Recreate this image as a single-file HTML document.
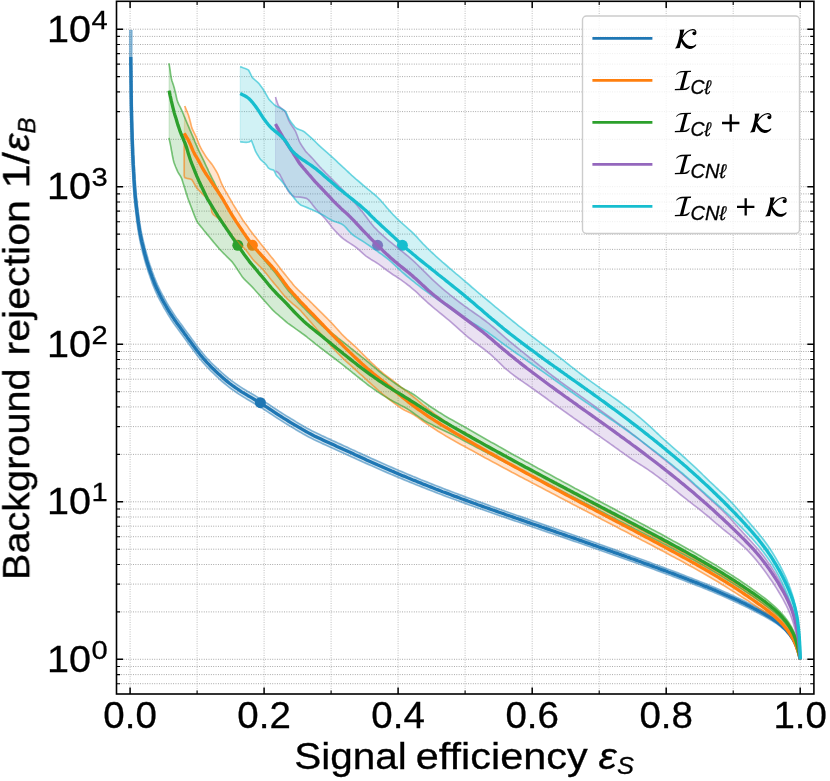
<!DOCTYPE html>
<html><head><meta charset="utf-8"><title>ROC</title>
<style>html,body{margin:0;padding:0;background:#fff}svg{display:block}</style></head>
<body>
<svg width="830" height="781" viewBox="0 0 830 781">
<rect width="830" height="781" fill="#fff"/>
<defs><filter id="gs" x="-5%" y="-5%" width="110%" height="110%" color-interpolation-filters="sRGB"><feColorMatrix type="saturate" values="0"/></filter><clipPath id="pc"><rect x="116.5" y="1.3" width="697.4" height="692.7"/></clipPath></defs>
<g stroke="#969696" stroke-width="0.9" stroke-dasharray="0.9 1.46" fill="none" clip-path="url(#pc)">
<path d="M116.5 683.7H813.9"/>
<path d="M116.5 674.6H813.9"/>
<path d="M116.5 666.5H813.9"/>
<path d="M116.5 659.3H813.9"/>
<path d="M116.5 611.9H813.9"/>
<path d="M116.5 584.1H813.9"/>
<path d="M116.5 564.5H813.9"/>
<path d="M116.5 549.2H813.9"/>
<path d="M116.5 536.7H813.9"/>
<path d="M116.5 526.2H813.9"/>
<path d="M116.5 517H813.9"/>
<path d="M116.5 509H813.9"/>
<path d="M116.5 501.8H813.9"/>
<path d="M116.5 454.4H813.9"/>
<path d="M116.5 426.6H813.9"/>
<path d="M116.5 406.9H813.9"/>
<path d="M116.5 391.7H813.9"/>
<path d="M116.5 379.2H813.9"/>
<path d="M116.5 368.7H813.9"/>
<path d="M116.5 359.5H813.9"/>
<path d="M116.5 351.5H813.9"/>
<path d="M116.5 344.2H813.9"/>
<path d="M116.5 296.8H813.9"/>
<path d="M116.5 269.1H813.9"/>
<path d="M116.5 249.4H813.9"/>
<path d="M116.5 234.1H813.9"/>
<path d="M116.5 221.7H813.9"/>
<path d="M116.5 211.1H813.9"/>
<path d="M116.5 202H813.9"/>
<path d="M116.5 193.9H813.9"/>
<path d="M116.5 186.7H813.9"/>
<path d="M116.5 139.3H813.9"/>
<path d="M116.5 111.6H813.9"/>
<path d="M116.5 91.9H813.9"/>
<path d="M116.5 76.6H813.9"/>
<path d="M116.5 64.1H813.9"/>
<path d="M116.5 53.6H813.9"/>
<path d="M116.5 44.5H813.9"/>
<path d="M116.5 36.4H813.9"/>
<path d="M116.5 29.2H813.9"/>
<path d="M130.1 1.3V694" opacity="0.75"/>
<path d="M197.1 1.3V694" opacity="0.75"/>
<path d="M264.1 1.3V694" opacity="0.75"/>
<path d="M331.1 1.3V694" opacity="0.75"/>
<path d="M398.1 1.3V694" opacity="0.75"/>
<path d="M465.1 1.3V694" opacity="0.75"/>
<path d="M532.2 1.3V694" opacity="0.75"/>
<path d="M599.2 1.3V694" opacity="0.75"/>
<path d="M666.2 1.3V694" opacity="0.75"/>
<path d="M733.2 1.3V694" opacity="0.75"/>
<path d="M800.2 1.3V694" opacity="0.75"/>
</g>
<g clip-path="url(#pc)">
<polygon points="131.8,30 131.7,56.9 131.7,59.9 131.8,62.9 131.8,65.9 131.8,68.9 131.9,71.9 131.9,74.9 131.9,77.9 132,80.9 132,83.9 132,86.9 132.1,89.9 132.1,92.9 132.2,95.9 132.2,98.9 132.2,101.9 132.3,104.9 132.3,107.9 132.4,110.9 132.5,113.9 132.5,116.9 132.6,119.9 132.7,123 132.8,126 132.9,129 133,132 133.1,135 133.2,138 133.3,141 133.4,144 133.5,147 133.6,150 133.7,153 133.9,156 134,159 134.2,161.9 134.3,164.9 134.5,167.9 134.7,170.9 134.8,173.9 135,176.9 135.2,179.9 135.4,182.9 135.6,185.9 135.8,188.9 136.1,191.9 136.3,194.9 136.6,197.8 137,200.8 137.3,203.8 137.6,206.8 138,209.8 138.4,212.7 138.8,215.7 139.2,218.7 139.6,221.6 140,224.6 140.5,227.5 141,230.5 141.6,233.4 142.2,236.3 142.9,239.2 143.6,242.1 144.3,245 145,247.9 145.8,250.8 146.6,253.7 147.4,256.6 148.2,259.4 149.1,262.3 150,265.1 151,267.9 151.9,270.7 153,273.5 154,276.3 155.1,279.1 156.2,281.8 157.4,284.6 158.6,287.2 159.9,289.9 161.2,292.5 162.6,295.1 164,297.7 165.5,300.3 166.9,302.9 168.4,305.5 170,308 171.6,310.5 173.2,313 174.8,315.4 176.5,317.9 178.3,320.3 180,322.7 181.8,325.1 183.5,327.5 185.3,330 187.1,332.4 188.9,334.8 190.6,337.2 192.4,339.7 194.2,342.1 195.9,344.5 197.7,346.9 199.5,349.2 201.4,351.6 203.2,353.8 205.1,356.1 207.1,358.3 209.1,360.4 211.1,362.5 213.2,364.6 215.4,366.6 217.5,368.7 219.7,370.7 221.9,372.7 224.1,374.6 226.3,376.5 228.6,378.4 230.9,380.2 233.3,381.9 235.7,383.6 238.1,385.3 240.5,386.9 243,388.5 245.5,390 248,391.6 250.6,393.1 253.2,394.6 255.8,396.1 258.4,397.7 260.9,399.3 263.5,400.9 266.1,402.6 268.6,404.2 271.1,405.9 273.6,407.6 276.1,409.2 278.6,410.9 281.1,412.5 283.6,414.1 286.1,415.7 288.7,417.2 291.2,418.8 293.8,420.3 296.3,421.9 298.9,423.4 301.5,424.9 304.1,426.4 306.6,427.9 309.2,429.3 311.8,430.7 314.5,432 317.1,433.3 319.8,434.6 322.5,435.9 325.2,437.1 327.9,438.4 330.6,439.6 333.3,440.9 336.1,442.1 338.8,443.4 341.5,444.6 344.3,445.9 347,447.1 349.7,448.4 352.5,449.7 355.2,450.9 357.9,452.2 360.6,453.4 363.4,454.7 366.1,455.9 368.8,457.1 371.6,458.4 374.3,459.6 377,460.8 379.8,462.1 382.5,463.3 385.3,464.5 388,465.7 390.7,466.9 393.5,468.1 396.2,469.3 399,470.5 401.8,471.6 404.5,472.8 407.3,474 410,475.1 412.8,476.3 415.6,477.4 418.3,478.5 421.1,479.7 423.9,480.8 426.7,481.9 429.5,483 432.2,484.1 435,485.2 437.8,486.3 440.6,487.4 443.4,488.5 446.2,489.6 449,490.6 451.8,491.7 454.6,492.8 457.4,493.8 460.2,494.9 463,495.9 465.9,497 468.7,498 471.5,499 474.3,500 477.1,501.1 479.9,502.1 482.8,503.1 485.6,504.1 488.4,505.1 491.2,506.2 494.1,507.2 496.9,508.2 499.7,509.2 502.6,510.2 505.4,511.2 508.2,512.2 511,513.2 513.9,514.2 516.7,515.2 519.5,516.1 522.4,517.1 525.2,518.1 528.1,519.1 530.9,520.1 533.7,521.1 536.6,522.1 539.4,523.1 542.2,524.1 545.1,525.1 547.9,526.1 550.7,527.1 553.6,528 556.4,529 559.2,530 562.1,531 564.9,532 567.8,533 570.6,534 573.4,535 576.3,536 579.1,537 581.9,538 584.8,539 587.6,540 590.4,541 593.3,542 596.1,543 598.9,544 601.7,545 604.6,546.1 607.4,547.1 610.2,548.1 613.1,549.1 615.9,550.1 618.7,551.1 621.6,552.1 624.4,553.2 627.2,554.2 630,555.2 632.9,556.2 635.7,557.3 638.5,558.3 641.3,559.3 644.2,560.3 647,561.4 649.8,562.4 652.6,563.5 655.4,564.5 658.3,565.5 661.1,566.6 663.9,567.6 666.7,568.7 669.5,569.7 672.3,570.8 675.2,571.9 678,572.9 680.8,574 683.6,575.1 686.4,576.2 689.2,577.3 692,578.4 694.8,579.5 697.6,580.6 700.4,581.7 703.2,582.8 706,583.9 708.8,585.1 711.5,586.2 714.3,587.4 717.1,588.6 719.9,589.8 722.6,591 725.4,592.2 728.1,593.4 730.9,594.7 733.6,595.9 736.4,597.2 739.1,598.5 741.8,599.8 744.5,601.1 747.2,602.5 749.9,603.8 752.6,605.2 755.3,606.6 757.9,608 760.6,609.5 763.2,611 765.8,612.5 768.4,614.1 770.9,615.8 773.4,617.6 775.9,619.4 778.2,621.3 780.5,623.2 782.8,625.3 784.9,627.4 786.9,629.7 788.9,632 790.6,634.4 792.3,636.9 793.7,639.5 795,642.2 796.2,644.9 797.2,647.7 798.1,650.6 798.9,653.5 799.6,656.4 800.4,659.3 800,659.3 799.3,656.4 798.5,653.6 797.7,650.7 796.7,647.9 795.6,645.2 794.3,642.6 792.8,640 791.2,637.6 789.5,635.3 787.6,633.1 785.5,631 783.4,629 781.2,627.1 778.9,625.3 776.5,623.6 774,622 771.5,620.4 769,618.9 766.4,617.5 763.8,616.1 761.1,614.7 758.5,613.3 755.9,611.9 753.2,610.5 750.6,609.2 747.9,607.8 745.2,606.5 742.5,605.2 739.8,603.9 737.1,602.6 734.4,601.4 731.7,600.1 729,598.9 726.3,597.7 723.5,596.5 720.8,595.3 718,594.1 715.2,593 712.5,591.8 709.7,590.7 706.9,589.5 704.2,588.4 701.4,587.3 698.6,586.2 695.8,585.1 693,584 690.2,582.9 687.4,581.9 684.6,580.8 681.8,579.7 679,578.7 676.2,577.6 673.4,576.6 670.6,575.5 667.8,574.5 664.9,573.5 662.1,572.4 659.3,571.4 656.5,570.4 653.7,569.3 650.8,568.3 648,567.3 645.2,566.3 642.4,565.3 639.5,564.2 636.7,563.2 633.9,562.2 631.1,561.2 628.2,560.2 625.4,559.2 622.6,558.2 619.7,557.2 616.9,556.2 614.1,555.2 611.2,554.2 608.4,553.2 605.6,552.2 602.7,551.2 599.9,550.2 597.1,549.2 594.2,548.3 591.4,547.3 588.6,546.3 585.7,545.3 582.9,544.3 580.1,543.3 577.2,542.3 574.4,541.4 571.5,540.4 568.7,539.4 565.9,538.4 563,537.4 560.2,536.5 557.4,535.5 554.5,534.5 551.7,533.5 548.8,532.6 546,531.6 543.1,530.6 540.3,529.6 537.5,528.7 534.6,527.7 531.8,526.7 528.9,525.7 526.1,524.8 523.3,523.8 520.4,522.8 517.6,521.8 514.7,520.9 511.9,519.9 509,518.9 506.2,517.9 503.4,516.9 500.5,516 497.7,515 494.8,514 492,513 489.2,512 486.3,511 483.5,510 480.7,509 477.8,508 475,507 472.2,506 469.3,505 466.5,503.9 463.7,502.9 460.8,501.9 458,500.8 455.2,499.8 452.4,498.8 449.6,497.7 446.7,496.7 443.9,495.6 441.1,494.5 438.3,493.5 435.5,492.4 432.7,491.3 429.9,490.2 427.1,489.1 424.3,488 421.5,486.9 418.7,485.8 415.9,484.7 413.1,483.5 410.3,482.4 407.5,481.2 404.7,480.1 401.9,478.9 399.2,477.8 396.4,476.6 393.6,475.4 390.8,474.3 388.1,473.1 385.3,471.9 382.5,470.7 379.8,469.5 377,468.3 374.3,467.1 371.5,465.8 368.8,464.6 366,463.4 363.3,462.2 360.5,460.9 357.8,459.7 355.1,458.4 352.3,457.2 349.6,456 346.8,454.7 344.1,453.5 341.4,452.2 338.6,451 335.9,449.8 333.2,448.5 330.4,447.3 327.7,446.1 324.9,444.8 322.2,443.6 319.5,442.3 316.7,441 314,439.7 311.3,438.3 308.6,436.9 305.9,435.4 303.2,434 300.6,432.4 298,430.9 295.4,429.4 292.8,427.8 290.2,426.3 287.6,424.7 285,423.1 282.5,421.5 279.9,419.9 277.4,418.3 274.8,416.6 272.3,414.9 269.8,413.3 267.3,411.6 264.8,410 262.3,408.4 259.8,406.8 257.3,405.2 254.7,403.7 252.2,402.2 249.6,400.7 247,399.2 244.4,397.6 241.8,396 239.2,394.4 236.7,392.7 234.2,390.9 231.7,389.2 229.2,387.3 226.8,385.4 224.5,383.5 222.1,381.5 219.8,379.5 217.6,377.4 215.4,375.3 213.2,373.2 211,371.1 208.9,368.9 206.7,366.7 204.7,364.5 202.7,362.2 200.7,359.8 198.8,357.5 196.9,355 195.1,352.6 193.3,350.2 191.5,347.8 189.7,345.3 188,342.9 186.2,340.5 184.4,338 182.6,335.6 180.9,333.2 179.1,330.8 177.3,328.3 175.6,325.9 173.8,323.4 172.1,320.9 170.4,318.4 168.8,315.8 167.2,313.2 165.7,310.6 164.1,308 162.7,305.3 161.2,302.7 159.8,300 158.4,297.3 157.1,294.6 155.8,291.8 154.6,289 153.4,286.2 152.3,283.4 151.3,280.5 150.3,277.7 149.3,274.8 148.3,272 147.4,269.1 146.5,266.2 145.6,263.3 144.8,260.4 144,257.5 143.2,254.6 142.5,251.7 141.8,248.7 141.1,245.8 140.4,242.8 139.8,239.9 139.2,236.9 138.7,233.9 138.2,231 137.8,228 137.3,225 136.9,222 136.5,219 136.2,216 135.8,213 135.5,210.1 135.1,207.1 134.8,204.1 134.5,201.1 134.2,198.1 134,195.1 133.8,192.1 133.5,189.1 133.3,186.1 133.2,183.1 133,180.1 132.8,177.1 132.7,174.1 132.5,171.1 132.3,168.1 132.2,165.1 132,162.1 131.9,159.1 131.8,156 131.7,153 131.6,150 131.5,147 131.4,144 131.3,141 131.2,138 131.1,135 131,132 130.9,129 130.8,126 130.7,123 130.7,120 130.6,117 130.5,114 130.5,111 130.4,108 130.4,105 130.3,102 130.3,99 130.3,96 130.2,93 130.2,90 130.2,86.9 130.1,83.9 130.1,80.9 130.1,77.9 130,74.9 130,71.9 130,68.9 129.9,65.9 129.9,62.9 129.8,59.9 129.8,56.9 129.8,30" fill="#1f77b4" fill-opacity="0.2" stroke="#1f77b4" stroke-opacity="0.18" stroke-width="1"/>
<circle cx="260.4" cy="402.7" r="5.5" fill="#1f77b4"/>
<polygon points="184.8,106 185.7,108.3 186.6,110.6 187.6,113 188.5,115.3 189.2,117.7 189.9,120.1 190.5,122.5 191.1,124.9 191.7,127.4 192.6,129.7 193.7,131.9 194.8,134.2 195.9,136.4 196.9,138.7 197.8,141 198.7,143.4 199.7,145.7 200.8,147.9 202,150.1 203.3,152.2 204.6,154.4 205.9,156.5 207.3,158.5 208.9,160.5 210.4,162.4 212,164.4 213.4,166.5 214.7,168.6 216,170.8 217.2,172.9 218.3,175.2 219.2,177.5 220.1,179.8 221,182.2 222,184.5 223.1,186.7 224.3,188.9 225.5,191.1 226.8,193.2 228,195.4 229.3,197.6 230.5,199.7 231.8,201.9 233,204.1 234.3,206.2 235.6,208.3 236.9,210.5 238.3,212.6 239.6,214.7 240.9,216.9 242.2,219 243.5,221.1 245,223.1 246.5,225.1 248,227.1 249.4,229.2 250.9,231.2 252.4,233.2 253.9,235.2 255.5,237.1 257,239.1 258.6,241 260.1,243 261.7,245 263.3,246.9 264.8,248.9 266.4,250.8 268,252.8 269.5,254.7 271.1,256.7 272.7,258.6 274.2,260.6 275.7,262.5 277.3,264.5 278.8,266.5 280.3,268.5 281.8,270.5 283.4,272.4 285,274.4 286.5,276.3 288.1,278.2 289.7,280.2 291.3,282.1 292.8,284.1 294.4,286 296.2,287.8 297.9,289.6 299.7,291.3 301.5,293 303.3,294.8 305.1,296.5 306.9,298.3 308.7,300 310.5,301.8 312.2,303.5 314,305.3 315.8,307.1 317.5,308.8 319.3,310.6 321.1,312.4 322.9,314.2 324.6,315.9 326.4,317.7 328.2,319.5 329.9,321.2 331.7,323 333.4,324.8 335.1,326.7 336.7,328.5 338.4,330.4 340.1,332.3 341.7,334.1 343.5,335.9 345.3,337.6 347.1,339.3 349,341 350.9,342.6 352.7,344.3 354.6,346 356.4,347.7 358.2,349.5 359.9,351.2 361.7,353 363.5,354.8 365.2,356.5 367,358.3 368.8,360.1 370.6,361.8 372.4,363.5 374.2,365.2 376,367 377.9,368.7 379.7,370.4 381.6,372 383.5,373.6 385.5,375.1 387.5,376.6 389.5,378.1 391.5,379.6 393.5,381.1 395.4,382.7 397.4,384.2 399.4,385.8 401.3,387.3 403.3,388.9 405.3,390.4 407.3,391.9 409.2,393.4 411.2,395 413.1,396.5 415.1,398.1 417,399.7 418.9,401.4 420.8,403 422.7,404.6 424.7,406.2 427.2,408.3 429.7,410.2 432.1,412 434.6,413.9 437.1,415.7 439.6,417.5 442.1,419.3 444.6,421 447.1,422.7 449.7,424.4 452.2,425.9 454.8,427.4 457.4,428.8 459.9,430.1 462.5,431.4 465.1,432.7 467.7,434.2 470.3,435.8 472.8,437.3 475.4,438.8 478,440.3 480.6,441.8 483.2,443.3 485.8,444.8 488.4,446.3 491,447.7 493.6,449.2 496.2,450.7 498.9,452.2 501.5,453.7 504.1,455.1 506.7,456.6 509.3,458.1 511.9,459.5 514.6,461 517.2,462.5 519.8,463.9 522.4,465.4 525.1,466.8 527.7,468.3 530.3,469.7 532.9,471.2 535.6,472.6 538.2,474.1 540.8,475.5 543.5,477 546.1,478.4 548.7,479.9 551.4,481.3 554,482.7 556.6,484.2 559.3,485.6 561.9,487.1 564.5,488.5 567.2,489.9 569.8,491.4 572.5,492.8 575.1,494.2 577.7,495.7 580.4,497.1 583,498.5 585.7,500 588.3,501.4 590.9,502.8 593.6,504.2 596.2,505.7 598.9,507.1 601.5,508.5 604.2,509.9 606.8,511.4 609.5,512.8 612.1,514.2 614.8,515.6 617.4,517 620.1,518.5 622.7,519.9 625.4,521.3 628,522.7 630.7,524.1 633.3,525.6 636,527 638.6,528.4 641.2,529.8 643.9,531.3 646.5,532.7 649.2,534.1 651.8,535.6 654.5,537 657.1,538.4 659.8,539.9 662.4,541.3 665.1,542.7 667.7,544.2 670.3,545.6 673,547.1 675.6,548.5 678.2,550 680.9,551.5 683.5,552.9 686.1,554.4 688.8,555.9 691.4,557.4 694,558.9 696.6,560.4 699.2,561.9 701.8,563.4 704.4,564.9 707,566.4 709.6,568 712.2,569.5 714.8,571.1 717.4,572.7 720,574.2 722.5,575.8 725.1,577.4 727.6,579 730.2,580.7 732.7,582.3 735.3,583.9 737.8,585.6 740.3,587.3 742.8,589 745.3,590.7 747.8,592.4 750.2,594.2 752.7,595.9 755.1,597.7 757.6,599.5 760,601.3 762.4,603.2 764.7,605.1 767.1,607 769.4,608.9 771.7,610.9 774,613 776.2,615 778.4,617.2 780.5,619.4 782.6,621.6 784.6,623.9 786.5,626.3 788.3,628.7 790.1,631.2 791.7,633.8 793.2,636.4 794.5,639.1 795.7,641.9 796.8,644.7 797.7,647.5 798.5,650.4 799.2,653.4 799.8,656.3 800.2,659.3 800.2,659.3 799.2,656.5 798.3,653.6 797.3,650.8 796.3,648 795.2,645.3 794,642.6 792.6,640 791.1,637.5 789.5,635.1 787.8,632.8 786,630.5 784,628.3 782,626.2 779.9,624.1 777.8,622.2 775.6,620.2 773.3,618.4 771,616.5 768.6,614.8 766.2,613.1 763.8,611.4 761.3,609.7 758.8,608.1 756.3,606.4 753.8,604.7 751.3,603.1 748.9,601.4 746.4,599.8 743.8,598.2 741.3,596.6 738.8,595 736.3,593.4 733.8,591.8 731.3,590.2 728.7,588.6 726.2,587 723.7,585.4 721.1,583.9 718.6,582.3 716,580.8 713.4,579.2 710.9,577.7 708.3,576.2 705.7,574.7 703.1,573.2 700.5,571.7 697.9,570.3 695.3,568.8 692.7,567.3 690.1,565.9 687.4,564.4 684.8,563 682.2,561.6 679.5,560.1 676.9,558.7 674.3,557.3 671.6,555.9 669,554.4 666.3,553 663.7,551.6 661,550.2 658.4,548.8 655.7,547.4 653.1,546 650.4,544.6 647.8,543.2 645.1,541.8 642.4,540.4 639.8,539.1 637.1,537.7 634.4,536.3 631.8,534.9 629.1,533.5 626.4,532.1 623.8,530.7 621.1,529.4 618.4,528 615.8,526.6 613.1,525.2 610.4,523.8 607.8,522.4 605.1,521.1 602.4,519.7 599.8,518.3 597.1,516.9 594.4,515.5 591.8,514.1 589.1,512.7 586.4,511.3 583.7,510 581.1,508.6 578.4,507.2 575.8,505.8 573.1,504.4 570.4,503 567.8,501.6 565.1,500.2 562.4,498.8 559.8,497.4 557.1,496 554.4,494.6 551.8,493.2 549.1,491.8 546.5,490.4 543.8,489 541.1,487.6 538.5,486.2 535.8,484.8 533.1,483.4 530.5,482 527.8,480.6 525.1,479.2 522.5,477.8 519.8,476.4 517.2,475 514.5,473.6 511.8,472.2 509.2,470.7 506.5,469.3 503.9,467.9 501.2,466.5 498.6,465.1 495.9,463.6 493.3,462.2 490.6,460.8 488,459.3 485.3,457.9 482.7,456.4 480,455 477.4,453.5 474.7,452.1 472.1,450.6 469.5,449.2 466.8,447.7 464.2,446.3 461.6,444.9 458.9,443.4 456.3,442 453.7,440.5 451.1,439.1 448.4,437.5 445.8,436 443.2,434.4 440.6,432.8 438,431.2 435.4,429.5 432.8,427.8 430.2,426.1 427.6,424.4 425,422.6 423.4,421.5 421.4,420 419.3,418.6 417.3,417.1 415.3,415.7 413.2,414.4 411.1,413.3 408.9,412.3 406.8,411.3 404.6,410.3 402.5,409.1 400.5,407.7 398.4,406.3 396.4,404.8 394.4,403.4 392.4,401.8 390.4,400.3 388.4,398.8 386.5,397.2 384.5,395.6 382.6,394.1 380.7,392.4 378.8,390.8 376.9,389.1 375.1,387.5 373.2,385.8 371.3,384.1 369.5,382.5 367.6,380.8 365.8,379.1 363.9,377.4 362.1,375.7 360.2,374.1 358.3,372.4 356.5,370.7 354.6,369 352.8,367.4 350.9,365.7 349.1,364 347.2,362.3 345.3,360.7 343.5,359 341.7,357.2 340,355.4 338.2,353.6 336.5,351.8 334.8,350 333,348.2 331.3,346.4 329.7,344.5 328.1,342.6 326.5,340.7 324.9,338.8 323.3,336.8 321.7,334.9 320.1,333 318.5,331.1 316.8,329.2 315.2,327.3 313.5,325.4 311.9,323.5 310.3,321.6 308.6,319.7 307,317.9 305.3,316 303.7,314.1 302,312.2 300.4,310.3 298.5,308.6 296.6,307 294.7,305.4 292.8,303.8 290.9,302.1 289,300.5 287.2,298.8 285.5,297 283.8,295.1 282.2,293.2 280.6,291.3 279.1,289.3 277.5,287.4 275.9,285.5 274.3,283.6 272.7,281.6 271.1,279.7 269.5,277.7 268,275.8 266.4,273.8 264.8,271.9 263.2,270 261.5,268.2 259.7,266.4 257.9,264.6 256.2,262.9 254.4,261.1 252.7,259.2 251.2,257.3 249.7,255.3 248.2,253.2 246.7,251.2 245.2,249.3 243.4,247.5 241.6,245.7 239.9,244 238.1,242.2 236.3,240.4 234.6,238.7 232.8,236.9 231.4,234.8 230,232.8 228.6,230.7 227.2,228.6 225.8,226.5 224.4,224.5 223,222.4 221.2,220.7 219.3,219.1 217.3,217.6 215.3,216.1 213.3,214.6 212,212.6 211.5,210.2 211,207.8 210.5,205.3 209.9,202.9 209.1,200.6 207.4,198.8 205.6,197 203.9,195.3 202.1,193.5 200.3,191.7 198.6,190 196.8,188.1 195.6,186 194.3,183.8 193.1,181.7 191.8,179.6 189.5,178.8 187.1,178.4 184.8,177.8 184.2,175.8 184.2,173.3 184.2,170.8 184.2,168.3 184.2,165.8 184.2,163.3 184.2,160.8 184.2,158.3 184.2,155.8 184.2,153.3 184.2,150.8 184.2,148.3 184.2,145.8 184.2,143.3 184.2,140.8 184.2,138.3 184.2,135.8 184.2,133.3" fill="#ff7f0e" fill-opacity="0.2" stroke="#ff7f0e" stroke-opacity="0.18" stroke-width="1"/>
<circle cx="252.4" cy="245.3" r="5.5" fill="#ff7f0e"/>
<polygon points="169,63.4 169.4,65.9 169.8,68.4 170.2,70.8 170.5,73.3 170.9,75.8 171.3,78.2 171.9,80.7 172.7,83.1 173.5,85.4 174.2,87.8 174.8,90.3 175.4,92.7 176,95.1 176.5,97.6 177.1,100 177.9,102.4 178.9,104.7 180.1,106.9 181.2,109.1 182.2,111.4 183.2,113.7 184.1,116.1 185.1,118.4 186,120.7 187,123 188,125.3 189,127.6 189.9,129.9 190.9,132.2 191.9,134.5 192.9,136.8 193.9,139.1 194.8,141.5 195.8,143.8 196.8,146.1 197.8,148.4 198.8,150.6 199.9,152.9 201,155.2 202.1,157.4 203.2,159.7 204.3,161.9 205.3,164.2 206.4,166.5 207.5,168.7 208.5,171 209.6,173.3 210.7,175.5 211.8,177.8 212.9,180 214.1,182.2 215.2,184.5 216.3,186.7 217.5,188.9 218.6,191.2 219.9,193.3 221.1,195.5 222.3,197.7 223.5,199.9 224.7,202.1 225.9,204.3 227.2,206.5 228.4,208.7 229.7,210.8 231,213 232.3,215.1 233.6,217.2 234.9,219.4 236.2,221.5 237.5,223.7 238.8,225.8 240.2,227.9 241.5,230 242.8,232.1 244.2,234.3 245.5,236.4 246.8,238.5 248.2,240.6 249.5,242.7 251.1,244.7 252.7,246.6 254.4,248.5 256,250.3 257.7,252.2 259.4,254.1 261,256 262.7,257.9 264.3,259.8 265.9,261.7 267.5,263.6 269.1,265.5 270.7,267.5 272.3,269.4 273.9,271.3 275.5,273.2 277,275.2 278.5,277.3 280,279.3 281.5,281.3 282.9,283.3 284.4,285.4 285.9,287.4 287.4,289.4 288.9,291.4 290.6,293.2 292.3,295.1 293.9,297 295.6,298.8 297.3,300.7 298.9,302.6 300.6,304.4 302.3,306.3 304.1,308 305.9,309.8 307.6,311.6 309.4,313.4 311.1,315.2 312.9,317 314.7,318.7 316.5,320.5 318.3,322.2 320.2,323.9 322,325.6 323.9,327.2 325.9,328.7 327.9,330.1 330,331.6 332,333.1 333.9,334.7 335.9,336.2 337.8,337.8 339.8,339.4 341.7,340.9 343.7,342.5 345.7,344.1 347.6,345.6 349.6,347.2 351.5,348.8 353.5,350.3 355.5,351.9 357.4,353.5 359.4,355 361.3,356.6 363.3,358.2 365.2,359.7 367.2,361.3 369.1,362.9 371,364.5 372.9,366.1 374.9,367.7 376.8,369.4 378.7,371 380.6,372.5 382.6,374.1 384.6,375.6 386.6,377.1 388.6,378.6 390.6,380.1 392.6,381.6 394.7,383 396.7,384.5 398.8,385.8 400.9,387.2 403.1,388.5 405.2,389.7 407.4,390.8 409.5,392 411.7,393.2 413.8,394.5 415.8,395.9 417.8,397.4 419.8,398.9 421.8,400.4 423.8,401.9 427.1,404.2 429.6,406 432.1,407.7 434.6,409.3 437.1,411 439.6,412.6 442.2,414.1 444.7,415.7 447.2,417.2 449.8,418.7 452.3,420.1 454.9,421.6 457.5,423 460.1,424.4 462.7,425.8 465.2,427.2 467.8,428.7 470.4,430.2 473,431.7 475.6,433.2 478.2,434.7 480.8,436.2 483.4,437.7 486,439.2 488.6,440.7 491.2,442.2 493.8,443.6 496.4,445.1 499,446.6 501.7,448 504.3,449.5 506.9,451 509.5,452.4 512.1,453.9 514.7,455.4 517.4,456.8 520,458.3 522.6,459.7 525.2,461.2 527.9,462.6 530.5,464.1 533.1,465.5 535.8,466.9 538.4,468.4 541,469.8 543.7,471.3 546.3,472.7 548.9,474.1 551.6,475.6 554.2,477 556.8,478.4 559.5,479.8 562.1,481.3 564.8,482.7 567.4,484.1 570.1,485.5 572.7,486.9 575.3,488.4 578,489.8 580.6,491.2 583.3,492.6 585.9,494 588.6,495.4 591.2,496.8 593.9,498.3 596.5,499.7 599.2,501.1 601.8,502.5 604.5,503.9 607.1,505.3 609.8,506.7 612.4,508.1 615.1,509.5 617.7,511 620.4,512.4 623,513.8 625.7,515.2 628.3,516.6 631,518 633.6,519.4 636.3,520.8 638.9,522.3 641.6,523.7 644.2,525.1 646.9,526.5 649.5,527.9 652.2,529.4 654.8,530.8 657.5,532.2 660.1,533.6 662.8,535.1 665.4,536.5 668,538 670.7,539.4 673.3,540.9 675.9,542.3 678.6,543.8 681.2,545.2 683.8,546.7 686.5,548.2 689.1,549.7 691.7,551.1 694.3,552.6 696.9,554.1 699.5,555.6 702.1,557.1 704.7,558.7 707.3,560.2 709.9,561.7 712.5,563.3 715.1,564.8 717.7,566.4 720.3,568 722.8,569.6 725.4,571.2 727.9,572.8 730.5,574.4 733,576 735.6,577.7 738.1,579.3 740.6,581 743.1,582.7 745.6,584.4 748.1,586.1 750.5,587.8 753,589.6 755.4,591.3 757.9,593.1 760.3,594.9 762.7,596.7 765.2,598.5 767.6,600.4 769.9,602.3 772.2,604.3 774.5,606.3 776.7,608.4 778.9,610.6 781,612.8 783,615.1 785,617.4 786.8,619.8 788.6,622.3 790.2,624.9 791.8,627.5 793.1,630.2 794.4,632.9 795.5,635.7 796.4,638.6 797.3,641.5 798,644.4 798.6,647.4 799.1,650.3 799.6,653.3 800,656.3 800.2,659.3 800.2,659.3 799.4,656.4 798.7,653.5 798,650.6 797.2,647.7 796.4,644.8 795.5,642 794.5,639.3 793.4,636.6 792.2,633.9 790.9,631.4 789.4,628.9 787.8,626.5 786,624.1 784.2,621.9 782.3,619.7 780.3,617.6 778.2,615.5 776,613.5 773.8,611.6 771.5,609.8 769.2,608 766.8,606.2 764.4,604.5 762,602.8 759.6,601.1 757.1,599.4 754.7,597.7 752.2,596 749.7,594.3 747.2,592.7 744.7,591 742.2,589.4 739.7,587.8 737.2,586.2 734.7,584.6 732.2,582.9 729.6,581.4 727.1,579.8 724.5,578.2 722,576.6 719.4,575.1 716.9,573.6 714.3,572 711.7,570.5 709.1,569 706.6,567.5 704,566 701.4,564.5 698.8,563.1 696.1,561.6 693.5,560.1 690.9,558.7 688.3,557.2 685.7,555.8 683,554.3 680.4,552.9 677.8,551.5 675.1,550.1 672.5,548.6 669.9,547.2 667.2,545.8 664.6,544.4 661.9,543 659.3,541.6 656.6,540.2 653.9,538.8 651.3,537.4 648.6,536.1 646,534.7 643.3,533.3 640.6,531.9 638,530.5 635.3,529.2 632.6,527.8 630,526.4 627.3,525 624.6,523.6 622,522.3 619.3,520.9 616.6,519.5 614,518.1 611.3,516.8 608.6,515.4 606,514 603.3,512.6 600.6,511.2 598,509.9 595.3,508.5 592.6,507.1 590,505.7 587.3,504.3 584.6,503 582,501.6 579.3,500.2 576.6,498.8 574,497.4 571.3,496 568.6,494.7 566,493.3 563.3,491.9 560.6,490.5 558,489.1 555.3,487.7 552.7,486.3 550,484.9 547.3,483.5 544.6,482.2 542,480.8 539.3,479.5 536.6,478.1 533.9,476.8 531.2,475.4 528.5,474.1 525.8,472.7 523.2,471.4 520.5,470 517.8,468.7 515.1,467.3 512.4,465.9 509.8,464.6 507.1,463.2 504.4,461.8 501.7,460.4 499,459.1 496.4,457.7 493.7,456.3 491,454.9 488.4,453.5 485.7,452.1 483,450.7 480.4,449.3 477.7,447.9 475,446.5 472.4,445.1 469.7,443.7 467,442.3 464.4,440.9 461.7,439.5 459.1,438.1 456.4,436.7 453.8,435.3 451.1,434 448.5,432.7 445.8,431.4 443.2,430.2 440.5,429 437.9,427.7 435.3,426.4 432.7,425.1 430.1,423.7 427.5,422.4 424,420.4 421.9,419 419.8,417.6 417.8,416.1 415.7,414.7 413.7,413.3 411.6,411.8 409.6,410.4 407.5,409.1 405.3,407.8 403.2,406.6 400.9,405.4 398.7,404.2 396.5,403.1 394.3,401.9 392.1,400.7 389.9,399.5 387.8,398.2 385.6,396.9 383.5,395.6 381.4,394.3 379.3,392.9 377.2,391.5 375.1,390 373.1,388.6 371.1,387.1 369,385.7 367,384.2 365.1,382.6 363.1,381.1 361.1,379.5 359.2,378 357.2,376.4 355.3,374.8 353.3,373.3 351.4,371.7 349.4,370.1 347.5,368.6 345.5,367 343.5,365.4 341.6,363.9 339.6,362.4 337.6,360.8 335.6,359.3 333.6,357.8 331.6,356.3 329.6,354.8 327.6,353.2 325.6,351.7 323.7,350.2 321.7,348.7 319.7,347.2 317.7,345.6 315.7,344.1 313.8,342.5 311.8,340.9 309.9,339.4 307.9,337.8 306,336.2 304,334.7 301.9,333.3 299.9,331.8 297.9,330.4 295.8,328.9 293.8,327.4 291.8,326 289.7,324.5 287.7,323.1 285.8,321.5 283.9,319.8 282,318.2 280.1,316.6 278.2,314.9 276.3,313.3 274.4,311.7 272.6,309.9 270.9,308 269.3,306.2 267.6,304.3 265.9,302.4 264.3,300.6 262.6,298.7 260.9,296.8 259.3,294.9 257.6,293 256,291.2 254.3,289.3 252.6,287.4 250.9,285.7 249.1,283.9 247.3,282.2 245.5,280.4 243.8,278.6 242.2,276.7 240.8,274.6 239.4,272.5 238,270.4 236.6,268.3 235.3,266.3 233.9,264.2 232.4,262.2 230.7,260.4 228.9,258.6 227.1,256.8 225.3,255 223.6,253.3 221.8,251.5 220,249.7 218.4,247.8 216.8,245.9 215.2,244 213.6,242.1 212,240.1 210.4,238.2 208.8,236.3 207.2,234.4 205.6,232.4 204,230.5 202.5,228.5 200.9,226.6 199.3,224.6 197.8,222.7 196.5,220.5 195.5,218.2 194.6,215.9 193.7,213.6 192.8,211.2 191.9,208.9 191,206.5 190.1,204.2 189.2,201.9 188.3,199.5 187.5,197.2 186.8,194.8 186,192.4 185.3,190 184.5,187.6 183.8,185.2 183,182.8 182.3,180.4 181.5,178.1 180.3,175.9 178.9,173.8 177.7,171.6 176.7,169.3 175.7,167 174.8,164.7 173.9,162.3 173.3,159.9 172.8,157.5 172.3,155 171.9,152.5 171.4,150.1 171,147.6 170.5,145.2 170,142.7 169.5,140.3 169,137.8" fill="#2ca02c" fill-opacity="0.2" stroke="#2ca02c" stroke-opacity="0.18" stroke-width="1"/>
<circle cx="237.8" cy="245.3" r="5.5" fill="#2ca02c"/>
<polygon points="275.5,97 276.4,99.9 277.3,102.7 278.3,105.6 280.5,107.6 282.8,109.5 285,111.5 286.3,114.2 287.4,117 288.5,119.8 289.8,122.5 291.4,125 293.1,127.5 294.8,130 296.1,132.7 297.2,135.5 298.2,138.3 299.2,141.2 300.6,143.8 302.2,146.3 303.9,148.8 305.6,151.3 307.7,153.5 309.8,155.6 311.9,157.8 313.9,160 315.8,162.3 317.8,164.6 319.8,166.8 321.9,169 324,171.1 326.1,173.3 328.2,175.4 330.4,177.6 332.5,179.7 334.6,181.8 336.7,183.9 338.9,186.1 341,188.2 343.1,190.3 345.3,192.5 347.4,194.6 349.5,196.8 351.5,199 353.5,201.2 355.4,203.5 357.4,205.8 359.3,208.1 361.2,210.5 363.1,212.8 364.9,215.2 366.7,217.6 368.5,220 370.3,222.4 372.2,224.8 374.1,227.1 376.2,229.2 378.3,231.4 380.5,233.4 382.7,235.4 384.9,237.4 387.2,239.4 389.5,241.3 391.9,243.2 394.2,245.1 396.6,247 398.9,248.9 401.3,250.7 403.6,252.6 405.9,254.5 408.3,256.4 410.5,258.4 412.8,260.4 415,262.4 417.2,264.5 419.3,266.6 421.5,268.7 423.6,270.8 425.7,272.9 427.9,275.1 430,277.2 432.2,279.3 434.4,281.4 436.6,283.4 438.8,285.4 441.1,287.4 443.3,289.3 445.7,291.3 448,293.2 450.3,295.1 452.7,296.9 455,298.8 457.4,300.6 459.8,302.5 462.2,304.3 464.6,306.1 467.1,307.8 469.5,309.6 472,311.3 474.4,313 476.9,314.7 479.4,316.4 481.8,318.2 484.2,320 486.6,321.8 489,323.7 491.3,325.6 493.6,327.5 495.9,329.4 498.1,331.4 500.4,333.4 502.6,335.4 504.9,337.4 507.2,339.3 509.5,341.3 511.8,343.2 514.1,345.1 516.4,347 518.8,348.9 521.1,350.8 523.5,352.7 525.8,354.6 528.2,356.5 530.5,358.3 532.9,360.2 535.2,362.1 537.6,364 539.9,365.9 542.3,367.7 544.6,369.6 547,371.5 549.3,373.3 551.7,375.2 554.1,377 556.5,378.8 558.9,380.6 561.3,382.4 563.8,384.2 566.2,385.9 568.7,387.7 571.1,389.4 573.6,391.1 576,392.9 578.5,394.6 580.9,396.4 583.4,398.1 585.8,399.9 588.3,401.6 590.7,403.4 593.2,405.2 595.6,406.9 598,408.7 600.5,410.5 602.9,412.2 605.3,414 607.8,415.8 610.2,417.5 612.6,419.3 615.1,421.1 617.5,422.9 619.9,424.6 622.3,426.4 624.8,428.2 627.2,430 629.6,431.8 631.9,433.7 634.3,435.5 636.7,437.4 639,439.2 641.4,441.1 643.7,443 646.1,444.9 648.4,446.8 650.8,448.6 653.1,450.5 655.5,452.4 657.8,454.3 660.2,456.2 662.5,458 664.9,459.9 667.2,461.8 669.6,463.7 671.9,465.6 674.2,467.5 676.6,469.4 678.9,471.3 681.2,473.2 683.5,475.2 685.8,477.1 688,479.1 690.3,481.1 692.5,483.1 694.7,485.2 697,487.2 699.2,489.2 701.4,491.2 703.7,493.2 705.9,495.3 708.1,497.3 710.4,499.3 712.6,501.3 714.8,503.3 717.1,505.3 719.3,507.4 721.4,509.5 723.6,511.6 725.7,513.7 727.8,515.8 729.8,518 731.9,520.3 733.9,522.5 735.9,524.7 737.9,527 739.9,529.2 741.9,531.4 743.9,533.7 746,535.9 748,538.1 750.1,540.3 752.1,542.5 754.1,544.7 756.1,547 758,549.3 759.9,551.6 761.8,553.9 763.7,556.3 765.5,558.7 767.2,561.2 768.9,563.6 770.6,566.1 772.3,568.6 773.9,571.2 775.5,573.7 777,576.3 778.5,578.9 779.9,581.5 781.4,584.2 782.7,586.9 784.1,589.6 785.3,592.3 786.6,595 787.8,597.8 788.9,600.5 790,603.3 791,606.2 791.9,609 792.8,611.9 793.6,614.8 794.3,617.7 795,620.6 795.7,623.5 796.3,626.5 796.8,629.4 797.3,632.4 797.7,635.4 798.1,638.4 798.5,641.3 798.8,644.3 799.1,647.3 799.4,650.3 799.7,653.3 799.9,656.3 800.2,659.3 800.2,659.3 799.8,656.3 799.5,653.3 799.1,650.4 798.7,647.4 798.2,644.4 797.7,641.5 797.2,638.5 796.6,635.6 795.9,632.6 795.2,629.7 794.4,626.8 793.6,624 792.7,621.1 791.7,618.3 790.7,615.5 789.5,612.7 788.4,609.9 787.1,607.2 785.8,604.5 784.4,601.9 783,599.2 781.5,596.6 780,594 778.5,591.5 776.9,588.9 775.3,586.4 773.6,583.8 772,581.3 770.3,578.9 768.6,576.4 766.9,573.9 765.1,571.5 763.3,569.1 761.5,566.7 759.7,564.3 757.8,562 755.9,559.6 754,557.4 752,555.1 749.9,552.9 747.9,550.7 745.8,548.6 743.6,546.5 741.4,544.5 739.2,542.5 736.9,540.5 734.7,538.5 732.3,536.6 730,534.7 727.7,532.8 725.4,531 723,529.1 720.7,527.1 718.4,525.2 716.1,523.3 713.8,521.3 711.5,519.4 709.3,517.4 707,515.5 704.6,513.6 702.3,511.7 700,509.8 697.6,507.9 695.2,506.1 692.9,504.3 690.5,502.4 688.1,500.6 685.7,498.7 683.4,496.9 681,495 678.7,493.1 676.4,491.2 674,489.3 671.7,487.4 669.3,485.6 667,483.7 664.6,481.8 662.3,480 659.9,478.2 657.5,476.4 655,474.6 652.6,472.8 650.1,471.1 647.7,469.4 645.2,467.8 642.7,466.1 640.1,464.5 637.6,462.9 635.1,461.3 632.6,459.7 630.1,458 627.7,456.3 625.2,454.6 622.8,452.8 620.3,451.1 617.9,449.3 615.5,447.6 613,445.8 610.6,444.1 608.1,442.3 605.7,440.6 603.2,438.9 600.8,437.1 598.3,435.4 595.8,433.7 593.4,431.9 590.9,430.2 588.5,428.5 586,426.7 583.6,425 581.1,423.3 578.7,421.5 576.2,419.8 573.8,418.1 571.3,416.3 568.9,414.6 566.4,412.8 564,411.1 561.5,409.3 559.1,407.6 556.6,405.8 554.2,404.1 551.8,402.3 549.3,400.6 546.9,398.8 544.5,397 542,395.3 539.6,393.5 537.1,391.8 534.7,390 532.2,388.3 529.8,386.6 527.3,384.8 524.8,383.1 522.4,381.4 519.9,379.7 517.5,378 515,376.2 512.6,374.4 510.3,372.6 508,370.7 505.7,368.8 503.5,366.8 501.3,364.7 499.2,362.6 497.1,360.5 494.9,358.5 492.7,356.4 490.5,354.4 488.2,352.5 485.9,350.6 483.5,348.8 481.1,347 478.7,345.2 476.3,343.4 473.9,341.7 471.5,339.8 469.1,338 466.8,336.1 464.5,334.2 462.3,332.2 460,330.2 457.8,328.2 455.6,326.2 453.3,324.2 451.1,322.2 448.8,320.2 446.5,318.3 444.2,316.4 441.9,314.5 439.5,312.6 437.2,310.7 434.9,308.8 432.6,306.9 430.3,304.9 428,303 425.8,300.9 423.6,298.9 421.4,296.8 419.3,294.8 417.1,292.7 414.8,290.7 412.6,288.8 410.3,286.8 407.9,285 405.5,283.1 403.1,281.4 400.7,279.6 398.2,278 395.7,276.3 393.1,274.7 390.7,273 388.2,271.3 385.8,269.5 383.4,267.7 381,265.9 378.6,264.1 376.1,262.5 373.6,260.9 371,259.4 368.5,257.8 366,256.1 363.7,254.2 361.5,252.2 359.3,250.2 357.1,248.2 354.7,246.4 352.2,244.7 349.7,243.1 347.2,241.5 344.7,239.8 342.4,238 340.1,236 338,233.9 335.9,231.7 333.9,229.5 331.9,227.2 330.1,224.8 328.3,222.5 326.4,220.1 324.4,217.8 322.4,215.7 320.3,213.5 318.2,211.4 316.1,209.2 314.2,206.9 312.3,204.5 310.5,202.1 308.6,199.9 306.3,198.3 303.4,197.7 300.4,197.2 297.5,197 294.5,196.8 292.1,195.3 290,193.2 288.1,190.9 286.7,188.2 285.4,185.5 284,182.8 282.7,180.1 281.3,177.5 280,174.8 278.1,172.6 275.5,171.1" fill="#9467bd" fill-opacity="0.2" stroke="#9467bd" stroke-opacity="0.18" stroke-width="1"/>
<circle cx="377.6" cy="245.3" r="5.5" fill="#9467bd"/>
<polygon points="240.2,66.6 243,67.7 245.8,68.7 248.5,70 249.9,72.6 251.2,75.3 252.6,77.9 254.9,79.9 257.2,81.8 259.3,83.9 261.1,86.4 262.8,88.8 264.4,91.4 265.9,94 267.4,96.6 268.8,99.2 270.9,101.4 273,103.5 275.2,105.6 277.9,107 280.6,108.3 283.2,109.7 285.5,111.4 286.8,114.1 288,116.8 289.3,119.6 291,122 292.8,124.4 294.7,126.8 296.9,128.6 299.7,129.7 302.5,130.8 305,132.3 307.3,134.3 309.6,136.3 311.8,138.3 314,140.4 316.1,142.5 318.2,144.6 320.4,146.7 322.6,148.7 324.9,150.7 327.2,152.7 329.4,154.6 331.7,156.7 333.9,158.7 336.1,160.7 338.3,162.8 340.5,164.8 342.7,166.9 344.9,168.9 347.1,171 349.3,173 351.5,175.1 353.8,177.1 356,179.1 358.3,181 360.6,183 362.9,185 365.2,186.9 367.5,188.8 369.8,190.7 372.1,192.6 374.5,194.5 376.7,196.5 378.9,198.6 380.9,200.7 382.9,203 384.9,205.3 386.8,207.6 388.8,209.8 390.8,212.1 392.8,214.3 394.9,216.4 397,218.6 399.2,220.6 401.4,222.7 403.6,224.7 405.9,226.7 408.1,228.7 410.4,230.6 412.6,232.7 414.7,234.8 416.8,236.9 418.8,239.2 420.8,241.4 422.8,243.6 424.9,245.7 427,247.9 429.2,249.9 431.3,252 433.6,254 435.8,256.1 438,258.1 440.3,260.1 442.5,262.1 444.8,264 447.1,266 449.3,268 451.6,269.9 453.9,271.8 456.2,273.8 458.5,275.7 460.8,277.7 463.1,279.6 465.4,281.6 467.7,283.5 470,285.5 472.2,287.5 474.5,289.4 476.8,291.4 479.1,293.3 481.4,295.2 483.7,297.1 486.1,299.1 488.4,301 490.7,302.9 493,304.8 495.3,306.8 497.6,308.7 499.9,310.6 502.3,312.5 504.6,314.4 506.9,316.3 509.2,318.2 511.6,320.1 513.9,322 516.3,323.9 518.6,325.8 521,327.7 523.3,329.5 525.7,331.4 528,333.3 530.4,335.1 532.8,337 535.2,338.8 537.6,340.6 540,342.4 542.4,344.3 544.8,346.1 547.2,347.9 549.6,349.7 551.9,351.5 554.3,353.3 556.7,355.2 559.1,357 561.5,358.9 563.8,360.7 566.2,362.6 568.6,364.5 570.9,366.3 573.3,368.2 575.6,370 578,371.9 580.4,373.7 582.8,375.5 585.2,377.3 587.6,379.1 590.1,380.9 592.5,382.6 595,384.4 597.4,386.1 599.9,387.9 602.3,389.6 604.8,391.3 607.2,393.1 609.7,394.8 612.2,396.6 614.6,398.3 617.1,400 619.5,401.8 621.9,403.6 624.3,405.4 626.7,407.2 629.1,409 631.5,410.9 633.9,412.7 636.2,414.6 638.5,416.5 640.8,418.4 643.1,420.3 645.4,422.3 647.6,424.3 649.9,426.3 652.1,428.4 654.2,430.4 656.4,432.5 658.6,434.5 660.8,436.6 663,438.6 665.3,440.6 667.5,442.6 669.8,444.6 672,446.6 674.3,448.6 676.6,450.6 678.8,452.5 681.1,454.5 683.3,456.5 685.6,458.5 687.8,460.6 690,462.6 692.2,464.6 694.4,466.7 696.6,468.7 698.8,470.8 701,472.9 703.1,475 705.3,477.1 707.4,479.2 709.6,481.3 711.8,483.3 714,485.4 716.1,487.5 718.3,489.5 720.5,491.6 722.7,493.7 724.9,495.7 727,497.8 729.2,500 731.3,502.1 733.3,504.3 735.3,506.5 737.3,508.8 739.3,511 741.3,513.3 743.2,515.6 745.2,517.9 747.2,520.1 749.1,522.4 751.1,524.7 753.1,527 755,529.3 757,531.5 758.9,533.9 760.8,536.2 762.6,538.5 764.5,540.9 766.2,543.3 768,545.8 769.7,548.3 771.3,550.8 772.9,553.3 774.5,555.9 776,558.5 777.5,561.1 779,563.7 780.4,566.3 781.8,569 783.1,571.7 784.4,574.4 785.7,577.1 786.9,579.9 788,582.7 789.1,585.5 790.2,588.3 791.1,591.1 792.1,594 793,596.8 793.8,599.7 794.5,602.6 795.2,605.5 795.9,608.5 796.4,611.4 796.9,614.4 797.4,617.3 797.8,620.3 798.1,623.3 798.4,626.3 798.7,629.3 798.9,632.3 799.1,635.3 799.3,638.3 799.5,641.3 799.6,644.3 799.8,647.3 799.9,650.3 800,653.3 800.2,656.3 800.3,659.3 800.3,659.3 800.1,656.3 799.8,653.3 799.6,650.3 799.4,647.3 799.1,644.3 798.8,641.3 798.5,638.3 798.1,635.4 797.7,632.4 797.3,629.4 796.8,626.5 796.3,623.5 795.7,620.6 795,617.6 794.3,614.7 793.5,611.9 792.6,609 791.7,606.1 790.7,603.3 789.7,600.5 788.6,597.7 787.5,594.9 786.4,592.1 785.2,589.4 783.9,586.6 782.7,583.9 781.4,581.2 780,578.5 778.7,575.8 777.2,573.2 775.8,570.6 774.2,568 772.7,565.5 771,562.9 769.4,560.4 767.7,558 765.9,555.5 764.1,553.1 762.3,550.7 760.5,548.4 758.6,546 756.6,543.8 754.7,541.5 752.7,539.2 750.6,537 748.6,534.8 746.5,532.6 744.4,530.5 742.3,528.3 740.2,526.2 738.1,524.1 736,522 733.8,519.9 731.7,517.8 729.5,515.7 727.3,513.6 725.1,511.6 722.9,509.5 720.7,507.5 718.4,505.5 716.2,503.5 714,501.5 711.7,499.5 709.5,497.5 707.2,495.5 705,493.5 702.7,491.5 700.5,489.5 698.3,487.5 696,485.5 693.8,483.4 691.6,481.4 689.4,479.4 687.1,477.4 684.8,475.5 682.6,473.5 680.3,471.6 677.9,469.7 675.6,467.8 673.3,465.9 670.9,464 668.6,462.1 666.2,460.2 663.9,458.4 661.5,456.5 659.2,454.7 656.8,452.8 654.4,451 652,449.2 649.6,447.4 647.2,445.5 644.8,443.7 642.4,441.9 640,440.1 637.6,438.3 635.2,436.5 632.7,434.8 630.3,433 627.9,431.3 625.4,429.5 623,427.8 620.5,426.1 618,424.3 615.6,422.6 613.1,420.9 610.6,419.2 608.2,417.5 605.7,415.8 603.2,414.1 600.7,412.4 598.2,410.7 595.8,409 593.3,407.3 590.8,405.6 588.3,403.9 585.9,402.2 583.4,400.5 580.9,398.7 578.5,397 576,395.3 573.6,393.5 571.1,391.8 568.7,390 566.2,388.3 563.8,386.5 561.3,384.8 558.9,383 556.4,381.3 554,379.6 551.5,377.8 549.1,376.1 546.6,374.4 544.2,372.6 541.7,370.9 539.2,369.2 536.8,367.4 534.3,365.7 531.9,364 529.4,362.3 526.9,360.6 524.5,358.8 522,357.1 519.5,355.4 517,353.7 514.6,352 512.1,350.2 509.7,348.5 507.2,346.7 504.8,345 502.4,343.2 500,341.4 497.6,339.6 495.2,337.8 492.7,336 490.3,334.3 487.9,332.5 485.4,330.8 482.9,329.2 480.4,327.6 477.8,326 475.3,324.5 472.7,322.9 470.1,321.4 467.5,319.9 464.9,318.4 462.4,316.8 459.9,315.1 457.4,313.5 454.9,311.7 452.5,310 450,308.3 447.6,306.5 445.2,304.7 442.7,303 440.3,301.2 437.8,299.5 435.4,297.8 432.9,296.1 430.4,294.4 428,292.6 425.6,290.9 423.1,289.1 420.8,287.3 418.4,285.4 416,283.6 413.7,281.7 411.3,279.8 409,277.9 406.7,276 404.4,274 402.1,272.1 399.9,270 397.7,268 395.6,265.9 393.4,263.9 391.2,261.8 388.9,259.9 386.6,258 384.2,256.2 381.8,254.4 379.3,252.7 376.9,250.9 374.4,249.2 371.9,247.5 369.5,245.8 367,244.1 364.5,242.4 362,240.8 359.4,239.2 356.9,237.6 354.4,236 352,234.2 349.9,232.1 347.9,229.9 346,227.6 344,225.6 341.6,224 339,222.9 336.1,222 333.3,221 330.7,219.7 328.1,218.2 325.5,216.6 322.9,215.1 320.3,213.7 317.6,212.3 314.9,211 312.2,209.7 309.4,208.6 306.6,207.4 303.8,206.3 301.1,205.2 298.7,203.4 296.7,201.2 294.8,198.9 292.9,196.5 291.1,194.1 289.4,191.7 287.6,189.2 285.9,186.8 284.1,184.3 282.3,181.9 280.4,179.6 278.3,177.5 276.2,175.3 275.1,172.6 273.7,170.1 270.8,169.4 268.4,168.1 266.8,165.6 264.9,163.3 262.6,161.4 260.4,159.4 258.8,156.9 257.2,154.3 255.7,151.7 254.6,148.9 253.6,146.1 252.5,143.3 251.5,140.6 249,142 246.2,142.3 243.2,142.1 240.2,141.8" fill="#17becf" fill-opacity="0.2" stroke="#17becf" stroke-opacity="0.18" stroke-width="1"/>
<circle cx="402.4" cy="245.3" r="5.5" fill="#17becf"/>
<path d="M131.8 30 L131.7 56.9 L131.7 59.9 L131.8 62.9 L131.8 65.9 L131.8 68.9 L131.9 71.9 L131.9 74.9 L131.9 77.9 L132 80.9 L132 83.9 L132 86.9 L132.1 89.9 L132.1 92.9 L132.2 95.9 L132.2 98.9 L132.2 101.9 L132.3 104.9 L132.3 107.9 L132.4 110.9 L132.5 113.9 L132.5 116.9 L132.6 119.9 L132.7 123 L132.8 126 L132.9 129 L133 132 L133.1 135 L133.2 138 L133.3 141 L133.4 144 L133.5 147 L133.6 150 L133.7 153 L133.9 156 L134 159 L134.2 161.9 L134.3 164.9 L134.5 167.9 L134.7 170.9 L134.8 173.9 L135 176.9 L135.2 179.9 L135.4 182.9 L135.6 185.9 L135.8 188.9 L136.1 191.9 L136.3 194.9 L136.6 197.8 L137 200.8 L137.3 203.8 L137.6 206.8 L138 209.8 L138.4 212.7 L138.8 215.7 L139.2 218.7 L139.6 221.6 L140 224.6 L140.5 227.5 L141 230.5 L141.6 233.4 L142.2 236.3 L142.9 239.2 L143.6 242.1 L144.3 245 L145 247.9 L145.8 250.8 L146.6 253.7 L147.4 256.6 L148.2 259.4 L149.1 262.3 L150 265.1 L151 267.9 L151.9 270.7 L153 273.5 L154 276.3 L155.1 279.1 L156.2 281.8 L157.4 284.6 L158.6 287.2 L159.9 289.9 L161.2 292.5 L162.6 295.1 L164 297.7 L165.5 300.3 L166.9 302.9 L168.4 305.5 L170 308 L171.6 310.5 L173.2 313 L174.8 315.4 L176.5 317.9 L178.3 320.3 L180 322.7 L181.8 325.1 L183.5 327.5 L185.3 330 L187.1 332.4 L188.9 334.8 L190.6 337.2 L192.4 339.7 L194.2 342.1 L195.9 344.5 L197.7 346.9 L199.5 349.2 L201.4 351.6 L203.2 353.8 L205.1 356.1 L207.1 358.3 L209.1 360.4 L211.1 362.5 L213.2 364.6 L215.4 366.6 L217.5 368.7 L219.7 370.7 L221.9 372.7 L224.1 374.6 L226.3 376.5 L228.6 378.4 L230.9 380.2 L233.3 381.9 L235.7 383.6 L238.1 385.3 L240.5 386.9 L243 388.5 L245.5 390 L248 391.6 L250.6 393.1 L253.2 394.6 L255.8 396.1 L258.4 397.7 L260.9 399.3 L263.5 400.9 L266.1 402.6 L268.6 404.2 L271.1 405.9 L273.6 407.6 L276.1 409.2 L278.6 410.9 L281.1 412.5 L283.6 414.1 L286.1 415.7 L288.7 417.2 L291.2 418.8 L293.8 420.3 L296.3 421.9 L298.9 423.4 L301.5 424.9 L304.1 426.4 L306.6 427.9 L309.2 429.3 L311.8 430.7 L314.5 432 L317.1 433.3 L319.8 434.6 L322.5 435.9 L325.2 437.1 L327.9 438.4 L330.6 439.6 L333.3 440.9 L336.1 442.1 L338.8 443.4 L341.5 444.6 L344.3 445.9 L347 447.1 L349.7 448.4 L352.5 449.7 L355.2 450.9 L357.9 452.2 L360.6 453.4 L363.4 454.7 L366.1 455.9 L368.8 457.1 L371.6 458.4 L374.3 459.6 L377 460.8 L379.8 462.1 L382.5 463.3 L385.3 464.5 L388 465.7 L390.7 466.9 L393.5 468.1 L396.2 469.3 L399 470.5 L401.8 471.6 L404.5 472.8 L407.3 474 L410 475.1 L412.8 476.3 L415.6 477.4 L418.3 478.5 L421.1 479.7 L423.9 480.8 L426.7 481.9 L429.5 483 L432.2 484.1 L435 485.2 L437.8 486.3 L440.6 487.4 L443.4 488.5 L446.2 489.6 L449 490.6 L451.8 491.7 L454.6 492.8 L457.4 493.8 L460.2 494.9 L463 495.9 L465.9 497 L468.7 498 L471.5 499 L474.3 500 L477.1 501.1 L479.9 502.1 L482.8 503.1 L485.6 504.1 L488.4 505.1 L491.2 506.2 L494.1 507.2 L496.9 508.2 L499.7 509.2 L502.6 510.2 L505.4 511.2 L508.2 512.2 L511 513.2 L513.9 514.2 L516.7 515.2 L519.5 516.1 L522.4 517.1 L525.2 518.1 L528.1 519.1 L530.9 520.1 L533.7 521.1 L536.6 522.1 L539.4 523.1 L542.2 524.1 L545.1 525.1 L547.9 526.1 L550.7 527.1 L553.6 528 L556.4 529 L559.2 530 L562.1 531 L564.9 532 L567.8 533 L570.6 534 L573.4 535 L576.3 536 L579.1 537 L581.9 538 L584.8 539 L587.6 540 L590.4 541 L593.3 542 L596.1 543 L598.9 544 L601.7 545 L604.6 546.1 L607.4 547.1 L610.2 548.1 L613.1 549.1 L615.9 550.1 L618.7 551.1 L621.6 552.1 L624.4 553.2 L627.2 554.2 L630 555.2 L632.9 556.2 L635.7 557.3 L638.5 558.3 L641.3 559.3 L644.2 560.3 L647 561.4 L649.8 562.4 L652.6 563.5 L655.4 564.5 L658.3 565.5 L661.1 566.6 L663.9 567.6 L666.7 568.7 L669.5 569.7 L672.3 570.8 L675.2 571.9 L678 572.9 L680.8 574 L683.6 575.1 L686.4 576.2 L689.2 577.3 L692 578.4 L694.8 579.5 L697.6 580.6 L700.4 581.7 L703.2 582.8 L706 583.9 L708.8 585.1 L711.5 586.2 L714.3 587.4 L717.1 588.6 L719.9 589.8 L722.6 591 L725.4 592.2 L728.1 593.4 L730.9 594.7 L733.6 595.9 L736.4 597.2 L739.1 598.5 L741.8 599.8 L744.5 601.1 L747.2 602.5 L749.9 603.8 L752.6 605.2 L755.3 606.6 L757.9 608 L760.6 609.5 L763.2 611 L765.8 612.5 L768.4 614.1 L770.9 615.8 L773.4 617.6 L775.9 619.4 L778.2 621.3 L780.5 623.2 L782.8 625.3 L784.9 627.4 L786.9 629.7 L788.9 632 L790.6 634.4 L792.3 636.9 L793.7 639.5 L795 642.2 L796.2 644.9 L797.2 647.7 L798.1 650.6 L798.9 653.5 L799.6 656.4 L800.4 659.3" fill="none" stroke="#1f77b4" stroke-opacity="0.45" stroke-width="1.7" stroke-linejoin="round"/>
<path d="M129.8 30 L129.8 56.9 L129.8 59.9 L129.9 62.9 L129.9 65.9 L130 68.9 L130 71.9 L130 74.9 L130.1 77.9 L130.1 80.9 L130.1 83.9 L130.2 86.9 L130.2 90 L130.2 93 L130.3 96 L130.3 99 L130.3 102 L130.4 105 L130.4 108 L130.5 111 L130.5 114 L130.6 117 L130.7 120 L130.7 123 L130.8 126 L130.9 129 L131 132 L131.1 135 L131.2 138 L131.3 141 L131.4 144 L131.5 147 L131.6 150 L131.7 153 L131.8 156 L131.9 159.1 L132 162.1 L132.2 165.1 L132.3 168.1 L132.5 171.1 L132.7 174.1 L132.8 177.1 L133 180.1 L133.2 183.1 L133.3 186.1 L133.5 189.1 L133.8 192.1 L134 195.1 L134.2 198.1 L134.5 201.1 L134.8 204.1 L135.1 207.1 L135.5 210.1 L135.8 213 L136.2 216 L136.5 219 L136.9 222 L137.3 225 L137.8 228 L138.2 231 L138.7 233.9 L139.2 236.9 L139.8 239.9 L140.4 242.8 L141.1 245.8 L141.8 248.7 L142.5 251.7 L143.2 254.6 L144 257.5 L144.8 260.4 L145.6 263.3 L146.5 266.2 L147.4 269.1 L148.3 272 L149.3 274.8 L150.3 277.7 L151.3 280.5 L152.3 283.4 L153.4 286.2 L154.6 289 L155.8 291.8 L157.1 294.6 L158.4 297.3 L159.8 300 L161.2 302.7 L162.7 305.3 L164.1 308 L165.7 310.6 L167.2 313.2 L168.8 315.8 L170.4 318.4 L172.1 320.9 L173.8 323.4 L175.6 325.9 L177.3 328.3 L179.1 330.8 L180.9 333.2 L182.6 335.6 L184.4 338 L186.2 340.5 L188 342.9 L189.7 345.3 L191.5 347.8 L193.3 350.2 L195.1 352.6 L196.9 355 L198.8 357.5 L200.7 359.8 L202.7 362.2 L204.7 364.5 L206.7 366.7 L208.9 368.9 L211 371.1 L213.2 373.2 L215.4 375.3 L217.6 377.4 L219.8 379.5 L222.1 381.5 L224.5 383.5 L226.8 385.4 L229.2 387.3 L231.7 389.2 L234.2 390.9 L236.7 392.7 L239.2 394.4 L241.8 396 L244.4 397.6 L247 399.2 L249.6 400.7 L252.2 402.2 L254.7 403.7 L257.3 405.2 L259.8 406.8 L262.3 408.4 L264.8 410 L267.3 411.6 L269.8 413.3 L272.3 414.9 L274.8 416.6 L277.4 418.3 L279.9 419.9 L282.5 421.5 L285 423.1 L287.6 424.7 L290.2 426.3 L292.8 427.8 L295.4 429.4 L298 430.9 L300.6 432.4 L303.2 434 L305.9 435.4 L308.6 436.9 L311.3 438.3 L314 439.7 L316.7 441 L319.5 442.3 L322.2 443.6 L324.9 444.8 L327.7 446.1 L330.4 447.3 L333.2 448.5 L335.9 449.8 L338.6 451 L341.4 452.2 L344.1 453.5 L346.8 454.7 L349.6 456 L352.3 457.2 L355.1 458.4 L357.8 459.7 L360.5 460.9 L363.3 462.2 L366 463.4 L368.8 464.6 L371.5 465.8 L374.3 467.1 L377 468.3 L379.8 469.5 L382.5 470.7 L385.3 471.9 L388.1 473.1 L390.8 474.3 L393.6 475.4 L396.4 476.6 L399.2 477.8 L401.9 478.9 L404.7 480.1 L407.5 481.2 L410.3 482.4 L413.1 483.5 L415.9 484.7 L418.7 485.8 L421.5 486.9 L424.3 488 L427.1 489.1 L429.9 490.2 L432.7 491.3 L435.5 492.4 L438.3 493.5 L441.1 494.5 L443.9 495.6 L446.7 496.7 L449.6 497.7 L452.4 498.8 L455.2 499.8 L458 500.8 L460.8 501.9 L463.7 502.9 L466.5 503.9 L469.3 505 L472.2 506 L475 507 L477.8 508 L480.7 509 L483.5 510 L486.3 511 L489.2 512 L492 513 L494.8 514 L497.7 515 L500.5 516 L503.4 516.9 L506.2 517.9 L509 518.9 L511.9 519.9 L514.7 520.9 L517.6 521.8 L520.4 522.8 L523.3 523.8 L526.1 524.8 L528.9 525.7 L531.8 526.7 L534.6 527.7 L537.5 528.7 L540.3 529.6 L543.1 530.6 L546 531.6 L548.8 532.6 L551.7 533.5 L554.5 534.5 L557.4 535.5 L560.2 536.5 L563 537.4 L565.9 538.4 L568.7 539.4 L571.5 540.4 L574.4 541.4 L577.2 542.3 L580.1 543.3 L582.9 544.3 L585.7 545.3 L588.6 546.3 L591.4 547.3 L594.2 548.3 L597.1 549.2 L599.9 550.2 L602.7 551.2 L605.6 552.2 L608.4 553.2 L611.2 554.2 L614.1 555.2 L616.9 556.2 L619.7 557.2 L622.6 558.2 L625.4 559.2 L628.2 560.2 L631.1 561.2 L633.9 562.2 L636.7 563.2 L639.5 564.2 L642.4 565.3 L645.2 566.3 L648 567.3 L650.8 568.3 L653.7 569.3 L656.5 570.4 L659.3 571.4 L662.1 572.4 L664.9 573.5 L667.8 574.5 L670.6 575.5 L673.4 576.6 L676.2 577.6 L679 578.7 L681.8 579.7 L684.6 580.8 L687.4 581.9 L690.2 582.9 L693 584 L695.8 585.1 L698.6 586.2 L701.4 587.3 L704.2 588.4 L706.9 589.5 L709.7 590.7 L712.5 591.8 L715.2 593 L718 594.1 L720.8 595.3 L723.5 596.5 L726.3 597.7 L729 598.9 L731.7 600.1 L734.4 601.4 L737.1 602.6 L739.8 603.9 L742.5 605.2 L745.2 606.5 L747.9 607.8 L750.6 609.2 L753.2 610.5 L755.9 611.9 L758.5 613.3 L761.1 614.7 L763.8 616.1 L766.4 617.5 L769 618.9 L771.5 620.4 L774 622 L776.5 623.6 L778.9 625.3 L781.2 627.1 L783.4 629 L785.5 631 L787.6 633.1 L789.5 635.3 L791.2 637.6 L792.8 640 L794.3 642.6 L795.6 645.2 L796.7 647.9 L797.7 650.7 L798.5 653.6 L799.3 656.4 L800 659.3" fill="none" stroke="#1f77b4" stroke-opacity="0.45" stroke-width="1.7" stroke-linejoin="round"/>
<path d="M184.8 106 L185.7 108.3 L186.6 110.6 L187.6 113 L188.5 115.3 L189.2 117.7 L189.9 120.1 L190.5 122.5 L191.1 124.9 L191.7 127.4 L192.6 129.7 L193.7 131.9 L194.8 134.2 L195.9 136.4 L196.9 138.7 L197.8 141 L198.7 143.4 L199.7 145.7 L200.8 147.9 L202 150.1 L203.3 152.2 L204.6 154.4 L205.9 156.5 L207.3 158.5 L208.9 160.5 L210.4 162.4 L212 164.4 L213.4 166.5 L214.7 168.6 L216 170.8 L217.2 172.9 L218.3 175.2 L219.2 177.5 L220.1 179.8 L221 182.2 L222 184.5 L223.1 186.7 L224.3 188.9 L225.5 191.1 L226.8 193.2 L228 195.4 L229.3 197.6 L230.5 199.7 L231.8 201.9 L233 204.1 L234.3 206.2 L235.6 208.3 L236.9 210.5 L238.3 212.6 L239.6 214.7 L240.9 216.9 L242.2 219 L243.5 221.1 L245 223.1 L246.5 225.1 L248 227.1 L249.4 229.2 L250.9 231.2 L252.4 233.2 L253.9 235.2 L255.5 237.1 L257 239.1 L258.6 241 L260.1 243 L261.7 245 L263.3 246.9 L264.8 248.9 L266.4 250.8 L268 252.8 L269.5 254.7 L271.1 256.7 L272.7 258.6 L274.2 260.6 L275.7 262.5 L277.3 264.5 L278.8 266.5 L280.3 268.5 L281.8 270.5 L283.4 272.4 L285 274.4 L286.5 276.3 L288.1 278.2 L289.7 280.2 L291.3 282.1 L292.8 284.1 L294.4 286 L296.2 287.8 L297.9 289.6 L299.7 291.3 L301.5 293 L303.3 294.8 L305.1 296.5 L306.9 298.3 L308.7 300 L310.5 301.8 L312.2 303.5 L314 305.3 L315.8 307.1 L317.5 308.8 L319.3 310.6 L321.1 312.4 L322.9 314.2 L324.6 315.9 L326.4 317.7 L328.2 319.5 L329.9 321.2 L331.7 323 L333.4 324.8 L335.1 326.7 L336.7 328.5 L338.4 330.4 L340.1 332.3 L341.7 334.1 L343.5 335.9 L345.3 337.6 L347.1 339.3 L349 341 L350.9 342.6 L352.7 344.3 L354.6 346 L356.4 347.7 L358.2 349.5 L359.9 351.2 L361.7 353 L363.5 354.8 L365.2 356.5 L367 358.3 L368.8 360.1 L370.6 361.8 L372.4 363.5 L374.2 365.2 L376 367 L377.9 368.7 L379.7 370.4 L381.6 372 L383.5 373.6 L385.5 375.1 L387.5 376.6 L389.5 378.1 L391.5 379.6 L393.5 381.1 L395.4 382.7 L397.4 384.2 L399.4 385.8 L401.3 387.3 L403.3 388.9 L405.3 390.4 L407.3 391.9 L409.2 393.4 L411.2 395 L413.1 396.5 L415.1 398.1 L417 399.7 L418.9 401.4 L420.8 403 L422.7 404.6 L424.7 406.2 L427.2 408.3 L429.7 410.2 L432.1 412 L434.6 413.9 L437.1 415.7 L439.6 417.5 L442.1 419.3 L444.6 421 L447.1 422.7 L449.7 424.4 L452.2 425.9 L454.8 427.4 L457.4 428.8 L459.9 430.1 L462.5 431.4 L465.1 432.7 L467.7 434.2 L470.3 435.8 L472.8 437.3 L475.4 438.8 L478 440.3 L480.6 441.8 L483.2 443.3 L485.8 444.8 L488.4 446.3 L491 447.7 L493.6 449.2 L496.2 450.7 L498.9 452.2 L501.5 453.7 L504.1 455.1 L506.7 456.6 L509.3 458.1 L511.9 459.5 L514.6 461 L517.2 462.5 L519.8 463.9 L522.4 465.4 L525.1 466.8 L527.7 468.3 L530.3 469.7 L532.9 471.2 L535.6 472.6 L538.2 474.1 L540.8 475.5 L543.5 477 L546.1 478.4 L548.7 479.9 L551.4 481.3 L554 482.7 L556.6 484.2 L559.3 485.6 L561.9 487.1 L564.5 488.5 L567.2 489.9 L569.8 491.4 L572.5 492.8 L575.1 494.2 L577.7 495.7 L580.4 497.1 L583 498.5 L585.7 500 L588.3 501.4 L590.9 502.8 L593.6 504.2 L596.2 505.7 L598.9 507.1 L601.5 508.5 L604.2 509.9 L606.8 511.4 L609.5 512.8 L612.1 514.2 L614.8 515.6 L617.4 517 L620.1 518.5 L622.7 519.9 L625.4 521.3 L628 522.7 L630.7 524.1 L633.3 525.6 L636 527 L638.6 528.4 L641.2 529.8 L643.9 531.3 L646.5 532.7 L649.2 534.1 L651.8 535.6 L654.5 537 L657.1 538.4 L659.8 539.9 L662.4 541.3 L665.1 542.7 L667.7 544.2 L670.3 545.6 L673 547.1 L675.6 548.5 L678.2 550 L680.9 551.5 L683.5 552.9 L686.1 554.4 L688.8 555.9 L691.4 557.4 L694 558.9 L696.6 560.4 L699.2 561.9 L701.8 563.4 L704.4 564.9 L707 566.4 L709.6 568 L712.2 569.5 L714.8 571.1 L717.4 572.7 L720 574.2 L722.5 575.8 L725.1 577.4 L727.6 579 L730.2 580.7 L732.7 582.3 L735.3 583.9 L737.8 585.6 L740.3 587.3 L742.8 589 L745.3 590.7 L747.8 592.4 L750.2 594.2 L752.7 595.9 L755.1 597.7 L757.6 599.5 L760 601.3 L762.4 603.2 L764.7 605.1 L767.1 607 L769.4 608.9 L771.7 610.9 L774 613 L776.2 615 L778.4 617.2 L780.5 619.4 L782.6 621.6 L784.6 623.9 L786.5 626.3 L788.3 628.7 L790.1 631.2 L791.7 633.8 L793.2 636.4 L794.5 639.1 L795.7 641.9 L796.8 644.7 L797.7 647.5 L798.5 650.4 L799.2 653.4 L799.8 656.3 L800.2 659.3" fill="none" stroke="#ff7f0e" stroke-opacity="0.55" stroke-width="1.7" stroke-linejoin="round"/>
<path d="M184.2 133.3 L184.2 135.8 L184.2 138.3 L184.2 140.8 L184.2 143.3 L184.2 145.8 L184.2 148.3 L184.2 150.8 L184.2 153.3 L184.2 155.8 L184.2 158.3 L184.2 160.8 L184.2 163.3 L184.2 165.8 L184.2 168.3 L184.2 170.8 L184.2 173.3 L184.2 175.8 L184.8 177.8 L187.1 178.4 L189.5 178.8 L191.8 179.6 L193.1 181.7 L194.3 183.8 L195.6 186 L196.8 188.1 L198.6 190 L200.3 191.7 L202.1 193.5 L203.9 195.3 L205.6 197 L207.4 198.8 L209.1 200.6 L209.9 202.9 L210.5 205.3 L211 207.8 L211.5 210.2 L212 212.6 L213.3 214.6 L215.3 216.1 L217.3 217.6 L219.3 219.1 L221.2 220.7 L223 222.4 L224.4 224.5 L225.8 226.5 L227.2 228.6 L228.6 230.7 L230 232.8 L231.4 234.8 L232.8 236.9 L234.6 238.7 L236.3 240.4 L238.1 242.2 L239.9 244 L241.6 245.7 L243.4 247.5 L245.2 249.3 L246.7 251.2 L248.2 253.2 L249.7 255.3 L251.2 257.3 L252.7 259.2 L254.4 261.1 L256.2 262.9 L257.9 264.6 L259.7 266.4 L261.5 268.2 L263.2 270 L264.8 271.9 L266.4 273.8 L268 275.8 L269.5 277.7 L271.1 279.7 L272.7 281.6 L274.3 283.6 L275.9 285.5 L277.5 287.4 L279.1 289.3 L280.6 291.3 L282.2 293.2 L283.8 295.1 L285.5 297 L287.2 298.8 L289 300.5 L290.9 302.1 L292.8 303.8 L294.7 305.4 L296.6 307 L298.5 308.6 L300.4 310.3 L302 312.2 L303.7 314.1 L305.3 316 L307 317.9 L308.6 319.7 L310.3 321.6 L311.9 323.5 L313.5 325.4 L315.2 327.3 L316.8 329.2 L318.5 331.1 L320.1 333 L321.7 334.9 L323.3 336.8 L324.9 338.8 L326.5 340.7 L328.1 342.6 L329.7 344.5 L331.3 346.4 L333 348.2 L334.8 350 L336.5 351.8 L338.2 353.6 L340 355.4 L341.7 357.2 L343.5 359 L345.3 360.7 L347.2 362.3 L349.1 364 L350.9 365.7 L352.8 367.4 L354.6 369 L356.5 370.7 L358.3 372.4 L360.2 374.1 L362.1 375.7 L363.9 377.4 L365.8 379.1 L367.6 380.8 L369.5 382.5 L371.3 384.1 L373.2 385.8 L375.1 387.5 L376.9 389.1 L378.8 390.8 L380.7 392.4 L382.6 394.1 L384.5 395.6 L386.5 397.2 L388.4 398.8 L390.4 400.3 L392.4 401.8 L394.4 403.4 L396.4 404.8 L398.4 406.3 L400.5 407.7 L402.5 409.1 L404.6 410.3 L406.8 411.3 L408.9 412.3 L411.1 413.3 L413.2 414.4 L415.3 415.7 L417.3 417.1 L419.3 418.6 L421.4 420 L423.4 421.5 L425 422.6 L427.6 424.4 L430.2 426.1 L432.8 427.8 L435.4 429.5 L438 431.2 L440.6 432.8 L443.2 434.4 L445.8 436 L448.4 437.5 L451.1 439.1 L453.7 440.5 L456.3 442 L458.9 443.4 L461.6 444.9 L464.2 446.3 L466.8 447.7 L469.5 449.2 L472.1 450.6 L474.7 452.1 L477.4 453.5 L480 455 L482.7 456.4 L485.3 457.9 L488 459.3 L490.6 460.8 L493.3 462.2 L495.9 463.6 L498.6 465.1 L501.2 466.5 L503.9 467.9 L506.5 469.3 L509.2 470.7 L511.8 472.2 L514.5 473.6 L517.2 475 L519.8 476.4 L522.5 477.8 L525.1 479.2 L527.8 480.6 L530.5 482 L533.1 483.4 L535.8 484.8 L538.5 486.2 L541.1 487.6 L543.8 489 L546.5 490.4 L549.1 491.8 L551.8 493.2 L554.4 494.6 L557.1 496 L559.8 497.4 L562.4 498.8 L565.1 500.2 L567.8 501.6 L570.4 503 L573.1 504.4 L575.8 505.8 L578.4 507.2 L581.1 508.6 L583.7 510 L586.4 511.3 L589.1 512.7 L591.8 514.1 L594.4 515.5 L597.1 516.9 L599.8 518.3 L602.4 519.7 L605.1 521.1 L607.8 522.4 L610.4 523.8 L613.1 525.2 L615.8 526.6 L618.4 528 L621.1 529.4 L623.8 530.7 L626.4 532.1 L629.1 533.5 L631.8 534.9 L634.4 536.3 L637.1 537.7 L639.8 539.1 L642.4 540.4 L645.1 541.8 L647.8 543.2 L650.4 544.6 L653.1 546 L655.7 547.4 L658.4 548.8 L661 550.2 L663.7 551.6 L666.3 553 L669 554.4 L671.6 555.9 L674.3 557.3 L676.9 558.7 L679.5 560.1 L682.2 561.6 L684.8 563 L687.4 564.4 L690.1 565.9 L692.7 567.3 L695.3 568.8 L697.9 570.3 L700.5 571.7 L703.1 573.2 L705.7 574.7 L708.3 576.2 L710.9 577.7 L713.4 579.2 L716 580.8 L718.6 582.3 L721.1 583.9 L723.7 585.4 L726.2 587 L728.7 588.6 L731.3 590.2 L733.8 591.8 L736.3 593.4 L738.8 595 L741.3 596.6 L743.8 598.2 L746.4 599.8 L748.9 601.4 L751.3 603.1 L753.8 604.7 L756.3 606.4 L758.8 608.1 L761.3 609.7 L763.8 611.4 L766.2 613.1 L768.6 614.8 L771 616.5 L773.3 618.4 L775.6 620.2 L777.8 622.2 L779.9 624.1 L782 626.2 L784 628.3 L786 630.5 L787.8 632.8 L789.5 635.1 L791.1 637.5 L792.6 640 L794 642.6 L795.2 645.3 L796.3 648 L797.3 650.8 L798.3 653.6 L799.2 656.5 L800.2 659.3" fill="none" stroke="#ff7f0e" stroke-opacity="0.55" stroke-width="1.7" stroke-linejoin="round"/>
<path d="M169 63.4 L169.4 65.9 L169.8 68.4 L170.2 70.8 L170.5 73.3 L170.9 75.8 L171.3 78.2 L171.9 80.7 L172.7 83.1 L173.5 85.4 L174.2 87.8 L174.8 90.3 L175.4 92.7 L176 95.1 L176.5 97.6 L177.1 100 L177.9 102.4 L178.9 104.7 L180.1 106.9 L181.2 109.1 L182.2 111.4 L183.2 113.7 L184.1 116.1 L185.1 118.4 L186 120.7 L187 123 L188 125.3 L189 127.6 L189.9 129.9 L190.9 132.2 L191.9 134.5 L192.9 136.8 L193.9 139.1 L194.8 141.5 L195.8 143.8 L196.8 146.1 L197.8 148.4 L198.8 150.6 L199.9 152.9 L201 155.2 L202.1 157.4 L203.2 159.7 L204.3 161.9 L205.3 164.2 L206.4 166.5 L207.5 168.7 L208.5 171 L209.6 173.3 L210.7 175.5 L211.8 177.8 L212.9 180 L214.1 182.2 L215.2 184.5 L216.3 186.7 L217.5 188.9 L218.6 191.2 L219.9 193.3 L221.1 195.5 L222.3 197.7 L223.5 199.9 L224.7 202.1 L225.9 204.3 L227.2 206.5 L228.4 208.7 L229.7 210.8 L231 213 L232.3 215.1 L233.6 217.2 L234.9 219.4 L236.2 221.5 L237.5 223.7 L238.8 225.8 L240.2 227.9 L241.5 230 L242.8 232.1 L244.2 234.3 L245.5 236.4 L246.8 238.5 L248.2 240.6 L249.5 242.7 L251.1 244.7 L252.7 246.6 L254.4 248.5 L256 250.3 L257.7 252.2 L259.4 254.1 L261 256 L262.7 257.9 L264.3 259.8 L265.9 261.7 L267.5 263.6 L269.1 265.5 L270.7 267.5 L272.3 269.4 L273.9 271.3 L275.5 273.2 L277 275.2 L278.5 277.3 L280 279.3 L281.5 281.3 L282.9 283.3 L284.4 285.4 L285.9 287.4 L287.4 289.4 L288.9 291.4 L290.6 293.2 L292.3 295.1 L293.9 297 L295.6 298.8 L297.3 300.7 L298.9 302.6 L300.6 304.4 L302.3 306.3 L304.1 308 L305.9 309.8 L307.6 311.6 L309.4 313.4 L311.1 315.2 L312.9 317 L314.7 318.7 L316.5 320.5 L318.3 322.2 L320.2 323.9 L322 325.6 L323.9 327.2 L325.9 328.7 L327.9 330.1 L330 331.6 L332 333.1 L333.9 334.7 L335.9 336.2 L337.8 337.8 L339.8 339.4 L341.7 340.9 L343.7 342.5 L345.7 344.1 L347.6 345.6 L349.6 347.2 L351.5 348.8 L353.5 350.3 L355.5 351.9 L357.4 353.5 L359.4 355 L361.3 356.6 L363.3 358.2 L365.2 359.7 L367.2 361.3 L369.1 362.9 L371 364.5 L372.9 366.1 L374.9 367.7 L376.8 369.4 L378.7 371 L380.6 372.5 L382.6 374.1 L384.6 375.6 L386.6 377.1 L388.6 378.6 L390.6 380.1 L392.6 381.6 L394.7 383 L396.7 384.5 L398.8 385.8 L400.9 387.2 L403.1 388.5 L405.2 389.7 L407.4 390.8 L409.5 392 L411.7 393.2 L413.8 394.5 L415.8 395.9 L417.8 397.4 L419.8 398.9 L421.8 400.4 L423.8 401.9 L427.1 404.2 L429.6 406 L432.1 407.7 L434.6 409.3 L437.1 411 L439.6 412.6 L442.2 414.1 L444.7 415.7 L447.2 417.2 L449.8 418.7 L452.3 420.1 L454.9 421.6 L457.5 423 L460.1 424.4 L462.7 425.8 L465.2 427.2 L467.8 428.7 L470.4 430.2 L473 431.7 L475.6 433.2 L478.2 434.7 L480.8 436.2 L483.4 437.7 L486 439.2 L488.6 440.7 L491.2 442.2 L493.8 443.6 L496.4 445.1 L499 446.6 L501.7 448 L504.3 449.5 L506.9 451 L509.5 452.4 L512.1 453.9 L514.7 455.4 L517.4 456.8 L520 458.3 L522.6 459.7 L525.2 461.2 L527.9 462.6 L530.5 464.1 L533.1 465.5 L535.8 466.9 L538.4 468.4 L541 469.8 L543.7 471.3 L546.3 472.7 L548.9 474.1 L551.6 475.6 L554.2 477 L556.8 478.4 L559.5 479.8 L562.1 481.3 L564.8 482.7 L567.4 484.1 L570.1 485.5 L572.7 486.9 L575.3 488.4 L578 489.8 L580.6 491.2 L583.3 492.6 L585.9 494 L588.6 495.4 L591.2 496.8 L593.9 498.3 L596.5 499.7 L599.2 501.1 L601.8 502.5 L604.5 503.9 L607.1 505.3 L609.8 506.7 L612.4 508.1 L615.1 509.5 L617.7 511 L620.4 512.4 L623 513.8 L625.7 515.2 L628.3 516.6 L631 518 L633.6 519.4 L636.3 520.8 L638.9 522.3 L641.6 523.7 L644.2 525.1 L646.9 526.5 L649.5 527.9 L652.2 529.4 L654.8 530.8 L657.5 532.2 L660.1 533.6 L662.8 535.1 L665.4 536.5 L668 538 L670.7 539.4 L673.3 540.9 L675.9 542.3 L678.6 543.8 L681.2 545.2 L683.8 546.7 L686.5 548.2 L689.1 549.7 L691.7 551.1 L694.3 552.6 L696.9 554.1 L699.5 555.6 L702.1 557.1 L704.7 558.7 L707.3 560.2 L709.9 561.7 L712.5 563.3 L715.1 564.8 L717.7 566.4 L720.3 568 L722.8 569.6 L725.4 571.2 L727.9 572.8 L730.5 574.4 L733 576 L735.6 577.7 L738.1 579.3 L740.6 581 L743.1 582.7 L745.6 584.4 L748.1 586.1 L750.5 587.8 L753 589.6 L755.4 591.3 L757.9 593.1 L760.3 594.9 L762.7 596.7 L765.2 598.5 L767.6 600.4 L769.9 602.3 L772.2 604.3 L774.5 606.3 L776.7 608.4 L778.9 610.6 L781 612.8 L783 615.1 L785 617.4 L786.8 619.8 L788.6 622.3 L790.2 624.9 L791.8 627.5 L793.1 630.2 L794.4 632.9 L795.5 635.7 L796.4 638.6 L797.3 641.5 L798 644.4 L798.6 647.4 L799.1 650.3 L799.6 653.3 L800 656.3 L800.2 659.3" fill="none" stroke="#2ca02c" stroke-opacity="0.55" stroke-width="1.7" stroke-linejoin="round"/>
<path d="M169 137.8 L169.5 140.3 L170 142.7 L170.5 145.2 L171 147.6 L171.4 150.1 L171.9 152.5 L172.3 155 L172.8 157.5 L173.3 159.9 L173.9 162.3 L174.8 164.7 L175.7 167 L176.7 169.3 L177.7 171.6 L178.9 173.8 L180.3 175.9 L181.5 178.1 L182.3 180.4 L183 182.8 L183.8 185.2 L184.5 187.6 L185.3 190 L186 192.4 L186.8 194.8 L187.5 197.2 L188.3 199.5 L189.2 201.9 L190.1 204.2 L191 206.5 L191.9 208.9 L192.8 211.2 L193.7 213.6 L194.6 215.9 L195.5 218.2 L196.5 220.5 L197.8 222.7 L199.3 224.6 L200.9 226.6 L202.5 228.5 L204 230.5 L205.6 232.4 L207.2 234.4 L208.8 236.3 L210.4 238.2 L212 240.1 L213.6 242.1 L215.2 244 L216.8 245.9 L218.4 247.8 L220 249.7 L221.8 251.5 L223.6 253.3 L225.3 255 L227.1 256.8 L228.9 258.6 L230.7 260.4 L232.4 262.2 L233.9 264.2 L235.3 266.3 L236.6 268.3 L238 270.4 L239.4 272.5 L240.8 274.6 L242.2 276.7 L243.8 278.6 L245.5 280.4 L247.3 282.2 L249.1 283.9 L250.9 285.7 L252.6 287.4 L254.3 289.3 L256 291.2 L257.6 293 L259.3 294.9 L260.9 296.8 L262.6 298.7 L264.3 300.6 L265.9 302.4 L267.6 304.3 L269.3 306.2 L270.9 308 L272.6 309.9 L274.4 311.7 L276.3 313.3 L278.2 314.9 L280.1 316.6 L282 318.2 L283.9 319.8 L285.8 321.5 L287.7 323.1 L289.7 324.5 L291.8 326 L293.8 327.4 L295.8 328.9 L297.9 330.4 L299.9 331.8 L301.9 333.3 L304 334.7 L306 336.2 L307.9 337.8 L309.9 339.4 L311.8 340.9 L313.8 342.5 L315.7 344.1 L317.7 345.6 L319.7 347.2 L321.7 348.7 L323.7 350.2 L325.6 351.7 L327.6 353.2 L329.6 354.8 L331.6 356.3 L333.6 357.8 L335.6 359.3 L337.6 360.8 L339.6 362.4 L341.6 363.9 L343.5 365.4 L345.5 367 L347.5 368.6 L349.4 370.1 L351.4 371.7 L353.3 373.3 L355.3 374.8 L357.2 376.4 L359.2 378 L361.1 379.5 L363.1 381.1 L365.1 382.6 L367 384.2 L369 385.7 L371.1 387.1 L373.1 388.6 L375.1 390 L377.2 391.5 L379.3 392.9 L381.4 394.3 L383.5 395.6 L385.6 396.9 L387.8 398.2 L389.9 399.5 L392.1 400.7 L394.3 401.9 L396.5 403.1 L398.7 404.2 L400.9 405.4 L403.2 406.6 L405.3 407.8 L407.5 409.1 L409.6 410.4 L411.6 411.8 L413.7 413.3 L415.7 414.7 L417.8 416.1 L419.8 417.6 L421.9 419 L424 420.4 L427.5 422.4 L430.1 423.7 L432.7 425.1 L435.3 426.4 L437.9 427.7 L440.5 429 L443.2 430.2 L445.8 431.4 L448.5 432.7 L451.1 434 L453.8 435.3 L456.4 436.7 L459.1 438.1 L461.7 439.5 L464.4 440.9 L467 442.3 L469.7 443.7 L472.4 445.1 L475 446.5 L477.7 447.9 L480.4 449.3 L483 450.7 L485.7 452.1 L488.4 453.5 L491 454.9 L493.7 456.3 L496.4 457.7 L499 459.1 L501.7 460.4 L504.4 461.8 L507.1 463.2 L509.8 464.6 L512.4 465.9 L515.1 467.3 L517.8 468.7 L520.5 470 L523.2 471.4 L525.8 472.7 L528.5 474.1 L531.2 475.4 L533.9 476.8 L536.6 478.1 L539.3 479.5 L542 480.8 L544.6 482.2 L547.3 483.5 L550 484.9 L552.7 486.3 L555.3 487.7 L558 489.1 L560.6 490.5 L563.3 491.9 L566 493.3 L568.6 494.7 L571.3 496 L574 497.4 L576.6 498.8 L579.3 500.2 L582 501.6 L584.6 503 L587.3 504.3 L590 505.7 L592.6 507.1 L595.3 508.5 L598 509.9 L600.6 511.2 L603.3 512.6 L606 514 L608.6 515.4 L611.3 516.8 L614 518.1 L616.6 519.5 L619.3 520.9 L622 522.3 L624.6 523.6 L627.3 525 L630 526.4 L632.6 527.8 L635.3 529.2 L638 530.5 L640.6 531.9 L643.3 533.3 L646 534.7 L648.6 536.1 L651.3 537.4 L653.9 538.8 L656.6 540.2 L659.3 541.6 L661.9 543 L664.6 544.4 L667.2 545.8 L669.9 547.2 L672.5 548.6 L675.1 550.1 L677.8 551.5 L680.4 552.9 L683 554.3 L685.7 555.8 L688.3 557.2 L690.9 558.7 L693.5 560.1 L696.1 561.6 L698.8 563.1 L701.4 564.5 L704 566 L706.6 567.5 L709.1 569 L711.7 570.5 L714.3 572 L716.9 573.6 L719.4 575.1 L722 576.6 L724.5 578.2 L727.1 579.8 L729.6 581.4 L732.2 582.9 L734.7 584.6 L737.2 586.2 L739.7 587.8 L742.2 589.4 L744.7 591 L747.2 592.7 L749.7 594.3 L752.2 596 L754.7 597.7 L757.1 599.4 L759.6 601.1 L762 602.8 L764.4 604.5 L766.8 606.2 L769.2 608 L771.5 609.8 L773.8 611.6 L776 613.5 L778.2 615.5 L780.3 617.6 L782.3 619.7 L784.2 621.9 L786 624.1 L787.8 626.5 L789.4 628.9 L790.9 631.4 L792.2 633.9 L793.4 636.6 L794.5 639.3 L795.5 642 L796.4 644.8 L797.2 647.7 L798 650.6 L798.7 653.5 L799.4 656.4 L800.2 659.3" fill="none" stroke="#2ca02c" stroke-opacity="0.55" stroke-width="1.7" stroke-linejoin="round"/>
<path d="M275.5 97 L276.4 99.9 L277.3 102.7 L278.3 105.6 L280.5 107.6 L282.8 109.5 L285 111.5 L286.3 114.2 L287.4 117 L288.5 119.8 L289.8 122.5 L291.4 125 L293.1 127.5 L294.8 130 L296.1 132.7 L297.2 135.5 L298.2 138.3 L299.2 141.2 L300.6 143.8 L302.2 146.3 L303.9 148.8 L305.6 151.3 L307.7 153.5 L309.8 155.6 L311.9 157.8 L313.9 160 L315.8 162.3 L317.8 164.6 L319.8 166.8 L321.9 169 L324 171.1 L326.1 173.3 L328.2 175.4 L330.4 177.6 L332.5 179.7 L334.6 181.8 L336.7 183.9 L338.9 186.1 L341 188.2 L343.1 190.3 L345.3 192.5 L347.4 194.6 L349.5 196.8 L351.5 199 L353.5 201.2 L355.4 203.5 L357.4 205.8 L359.3 208.1 L361.2 210.5 L363.1 212.8 L364.9 215.2 L366.7 217.6 L368.5 220 L370.3 222.4 L372.2 224.8 L374.1 227.1 L376.2 229.2 L378.3 231.4 L380.5 233.4 L382.7 235.4 L384.9 237.4 L387.2 239.4 L389.5 241.3 L391.9 243.2 L394.2 245.1 L396.6 247 L398.9 248.9 L401.3 250.7 L403.6 252.6 L405.9 254.5 L408.3 256.4 L410.5 258.4 L412.8 260.4 L415 262.4 L417.2 264.5 L419.3 266.6 L421.5 268.7 L423.6 270.8 L425.7 272.9 L427.9 275.1 L430 277.2 L432.2 279.3 L434.4 281.4 L436.6 283.4 L438.8 285.4 L441.1 287.4 L443.3 289.3 L445.7 291.3 L448 293.2 L450.3 295.1 L452.7 296.9 L455 298.8 L457.4 300.6 L459.8 302.5 L462.2 304.3 L464.6 306.1 L467.1 307.8 L469.5 309.6 L472 311.3 L474.4 313 L476.9 314.7 L479.4 316.4 L481.8 318.2 L484.2 320 L486.6 321.8 L489 323.7 L491.3 325.6 L493.6 327.5 L495.9 329.4 L498.1 331.4 L500.4 333.4 L502.6 335.4 L504.9 337.4 L507.2 339.3 L509.5 341.3 L511.8 343.2 L514.1 345.1 L516.4 347 L518.8 348.9 L521.1 350.8 L523.5 352.7 L525.8 354.6 L528.2 356.5 L530.5 358.3 L532.9 360.2 L535.2 362.1 L537.6 364 L539.9 365.9 L542.3 367.7 L544.6 369.6 L547 371.5 L549.3 373.3 L551.7 375.2 L554.1 377 L556.5 378.8 L558.9 380.6 L561.3 382.4 L563.8 384.2 L566.2 385.9 L568.7 387.7 L571.1 389.4 L573.6 391.1 L576 392.9 L578.5 394.6 L580.9 396.4 L583.4 398.1 L585.8 399.9 L588.3 401.6 L590.7 403.4 L593.2 405.2 L595.6 406.9 L598 408.7 L600.5 410.5 L602.9 412.2 L605.3 414 L607.8 415.8 L610.2 417.5 L612.6 419.3 L615.1 421.1 L617.5 422.9 L619.9 424.6 L622.3 426.4 L624.8 428.2 L627.2 430 L629.6 431.8 L631.9 433.7 L634.3 435.5 L636.7 437.4 L639 439.2 L641.4 441.1 L643.7 443 L646.1 444.9 L648.4 446.8 L650.8 448.6 L653.1 450.5 L655.5 452.4 L657.8 454.3 L660.2 456.2 L662.5 458 L664.9 459.9 L667.2 461.8 L669.6 463.7 L671.9 465.6 L674.2 467.5 L676.6 469.4 L678.9 471.3 L681.2 473.2 L683.5 475.2 L685.8 477.1 L688 479.1 L690.3 481.1 L692.5 483.1 L694.7 485.2 L697 487.2 L699.2 489.2 L701.4 491.2 L703.7 493.2 L705.9 495.3 L708.1 497.3 L710.4 499.3 L712.6 501.3 L714.8 503.3 L717.1 505.3 L719.3 507.4 L721.4 509.5 L723.6 511.6 L725.7 513.7 L727.8 515.8 L729.8 518 L731.9 520.3 L733.9 522.5 L735.9 524.7 L737.9 527 L739.9 529.2 L741.9 531.4 L743.9 533.7 L746 535.9 L748 538.1 L750.1 540.3 L752.1 542.5 L754.1 544.7 L756.1 547 L758 549.3 L759.9 551.6 L761.8 553.9 L763.7 556.3 L765.5 558.7 L767.2 561.2 L768.9 563.6 L770.6 566.1 L772.3 568.6 L773.9 571.2 L775.5 573.7 L777 576.3 L778.5 578.9 L779.9 581.5 L781.4 584.2 L782.7 586.9 L784.1 589.6 L785.3 592.3 L786.6 595 L787.8 597.8 L788.9 600.5 L790 603.3 L791 606.2 L791.9 609 L792.8 611.9 L793.6 614.8 L794.3 617.7 L795 620.6 L795.7 623.5 L796.3 626.5 L796.8 629.4 L797.3 632.4 L797.7 635.4 L798.1 638.4 L798.5 641.3 L798.8 644.3 L799.1 647.3 L799.4 650.3 L799.7 653.3 L799.9 656.3 L800.2 659.3" fill="none" stroke="#9467bd" stroke-opacity="0.55" stroke-width="1.7" stroke-linejoin="round"/>
<path d="M275.5 171.1 L278.1 172.6 L280 174.8 L281.3 177.5 L282.7 180.1 L284 182.8 L285.4 185.5 L286.7 188.2 L288.1 190.9 L290 193.2 L292.1 195.3 L294.5 196.8 L297.5 197 L300.4 197.2 L303.4 197.7 L306.3 198.3 L308.6 199.9 L310.5 202.1 L312.3 204.5 L314.2 206.9 L316.1 209.2 L318.2 211.4 L320.3 213.5 L322.4 215.7 L324.4 217.8 L326.4 220.1 L328.3 222.5 L330.1 224.8 L331.9 227.2 L333.9 229.5 L335.9 231.7 L338 233.9 L340.1 236 L342.4 238 L344.7 239.8 L347.2 241.5 L349.7 243.1 L352.2 244.7 L354.7 246.4 L357.1 248.2 L359.3 250.2 L361.5 252.2 L363.7 254.2 L366 256.1 L368.5 257.8 L371 259.4 L373.6 260.9 L376.1 262.5 L378.6 264.1 L381 265.9 L383.4 267.7 L385.8 269.5 L388.2 271.3 L390.7 273 L393.1 274.7 L395.7 276.3 L398.2 278 L400.7 279.6 L403.1 281.4 L405.5 283.1 L407.9 285 L410.3 286.8 L412.6 288.8 L414.8 290.7 L417.1 292.7 L419.3 294.8 L421.4 296.8 L423.6 298.9 L425.8 300.9 L428 303 L430.3 304.9 L432.6 306.9 L434.9 308.8 L437.2 310.7 L439.5 312.6 L441.9 314.5 L444.2 316.4 L446.5 318.3 L448.8 320.2 L451.1 322.2 L453.3 324.2 L455.6 326.2 L457.8 328.2 L460 330.2 L462.3 332.2 L464.5 334.2 L466.8 336.1 L469.1 338 L471.5 339.8 L473.9 341.7 L476.3 343.4 L478.7 345.2 L481.1 347 L483.5 348.8 L485.9 350.6 L488.2 352.5 L490.5 354.4 L492.7 356.4 L494.9 358.5 L497.1 360.5 L499.2 362.6 L501.3 364.7 L503.5 366.8 L505.7 368.8 L508 370.7 L510.3 372.6 L512.6 374.4 L515 376.2 L517.5 378 L519.9 379.7 L522.4 381.4 L524.8 383.1 L527.3 384.8 L529.8 386.6 L532.2 388.3 L534.7 390 L537.1 391.8 L539.6 393.5 L542 395.3 L544.5 397 L546.9 398.8 L549.3 400.6 L551.8 402.3 L554.2 404.1 L556.6 405.8 L559.1 407.6 L561.5 409.3 L564 411.1 L566.4 412.8 L568.9 414.6 L571.3 416.3 L573.8 418.1 L576.2 419.8 L578.7 421.5 L581.1 423.3 L583.6 425 L586 426.7 L588.5 428.5 L590.9 430.2 L593.4 431.9 L595.8 433.7 L598.3 435.4 L600.8 437.1 L603.2 438.9 L605.7 440.6 L608.1 442.3 L610.6 444.1 L613 445.8 L615.5 447.6 L617.9 449.3 L620.3 451.1 L622.8 452.8 L625.2 454.6 L627.7 456.3 L630.1 458 L632.6 459.7 L635.1 461.3 L637.6 462.9 L640.1 464.5 L642.7 466.1 L645.2 467.8 L647.7 469.4 L650.1 471.1 L652.6 472.8 L655 474.6 L657.5 476.4 L659.9 478.2 L662.3 480 L664.6 481.8 L667 483.7 L669.3 485.6 L671.7 487.4 L674 489.3 L676.4 491.2 L678.7 493.1 L681 495 L683.4 496.9 L685.7 498.7 L688.1 500.6 L690.5 502.4 L692.9 504.3 L695.2 506.1 L697.6 507.9 L700 509.8 L702.3 511.7 L704.6 513.6 L707 515.5 L709.3 517.4 L711.5 519.4 L713.8 521.3 L716.1 523.3 L718.4 525.2 L720.7 527.1 L723 529.1 L725.4 531 L727.7 532.8 L730 534.7 L732.3 536.6 L734.7 538.5 L736.9 540.5 L739.2 542.5 L741.4 544.5 L743.6 546.5 L745.8 548.6 L747.9 550.7 L749.9 552.9 L752 555.1 L754 557.4 L755.9 559.6 L757.8 562 L759.7 564.3 L761.5 566.7 L763.3 569.1 L765.1 571.5 L766.9 573.9 L768.6 576.4 L770.3 578.9 L772 581.3 L773.6 583.8 L775.3 586.4 L776.9 588.9 L778.5 591.5 L780 594 L781.5 596.6 L783 599.2 L784.4 601.9 L785.8 604.5 L787.1 607.2 L788.4 609.9 L789.5 612.7 L790.7 615.5 L791.7 618.3 L792.7 621.1 L793.6 624 L794.4 626.8 L795.2 629.7 L795.9 632.6 L796.6 635.6 L797.2 638.5 L797.7 641.5 L798.2 644.4 L798.7 647.4 L799.1 650.4 L799.5 653.3 L799.8 656.3 L800.2 659.3" fill="none" stroke="#9467bd" stroke-opacity="0.55" stroke-width="1.7" stroke-linejoin="round"/>
<path d="M240.2 66.6 L243 67.7 L245.8 68.7 L248.5 70 L249.9 72.6 L251.2 75.3 L252.6 77.9 L254.9 79.9 L257.2 81.8 L259.3 83.9 L261.1 86.4 L262.8 88.8 L264.4 91.4 L265.9 94 L267.4 96.6 L268.8 99.2 L270.9 101.4 L273 103.5 L275.2 105.6 L277.9 107 L280.6 108.3 L283.2 109.7 L285.5 111.4 L286.8 114.1 L288 116.8 L289.3 119.6 L291 122 L292.8 124.4 L294.7 126.8 L296.9 128.6 L299.7 129.7 L302.5 130.8 L305 132.3 L307.3 134.3 L309.6 136.3 L311.8 138.3 L314 140.4 L316.1 142.5 L318.2 144.6 L320.4 146.7 L322.6 148.7 L324.9 150.7 L327.2 152.7 L329.4 154.6 L331.7 156.7 L333.9 158.7 L336.1 160.7 L338.3 162.8 L340.5 164.8 L342.7 166.9 L344.9 168.9 L347.1 171 L349.3 173 L351.5 175.1 L353.8 177.1 L356 179.1 L358.3 181 L360.6 183 L362.9 185 L365.2 186.9 L367.5 188.8 L369.8 190.7 L372.1 192.6 L374.5 194.5 L376.7 196.5 L378.9 198.6 L380.9 200.7 L382.9 203 L384.9 205.3 L386.8 207.6 L388.8 209.8 L390.8 212.1 L392.8 214.3 L394.9 216.4 L397 218.6 L399.2 220.6 L401.4 222.7 L403.6 224.7 L405.9 226.7 L408.1 228.7 L410.4 230.6 L412.6 232.7 L414.7 234.8 L416.8 236.9 L418.8 239.2 L420.8 241.4 L422.8 243.6 L424.9 245.7 L427 247.9 L429.2 249.9 L431.3 252 L433.6 254 L435.8 256.1 L438 258.1 L440.3 260.1 L442.5 262.1 L444.8 264 L447.1 266 L449.3 268 L451.6 269.9 L453.9 271.8 L456.2 273.8 L458.5 275.7 L460.8 277.7 L463.1 279.6 L465.4 281.6 L467.7 283.5 L470 285.5 L472.2 287.5 L474.5 289.4 L476.8 291.4 L479.1 293.3 L481.4 295.2 L483.7 297.1 L486.1 299.1 L488.4 301 L490.7 302.9 L493 304.8 L495.3 306.8 L497.6 308.7 L499.9 310.6 L502.3 312.5 L504.6 314.4 L506.9 316.3 L509.2 318.2 L511.6 320.1 L513.9 322 L516.3 323.9 L518.6 325.8 L521 327.7 L523.3 329.5 L525.7 331.4 L528 333.3 L530.4 335.1 L532.8 337 L535.2 338.8 L537.6 340.6 L540 342.4 L542.4 344.3 L544.8 346.1 L547.2 347.9 L549.6 349.7 L551.9 351.5 L554.3 353.3 L556.7 355.2 L559.1 357 L561.5 358.9 L563.8 360.7 L566.2 362.6 L568.6 364.5 L570.9 366.3 L573.3 368.2 L575.6 370 L578 371.9 L580.4 373.7 L582.8 375.5 L585.2 377.3 L587.6 379.1 L590.1 380.9 L592.5 382.6 L595 384.4 L597.4 386.1 L599.9 387.9 L602.3 389.6 L604.8 391.3 L607.2 393.1 L609.7 394.8 L612.2 396.6 L614.6 398.3 L617.1 400 L619.5 401.8 L621.9 403.6 L624.3 405.4 L626.7 407.2 L629.1 409 L631.5 410.9 L633.9 412.7 L636.2 414.6 L638.5 416.5 L640.8 418.4 L643.1 420.3 L645.4 422.3 L647.6 424.3 L649.9 426.3 L652.1 428.4 L654.2 430.4 L656.4 432.5 L658.6 434.5 L660.8 436.6 L663 438.6 L665.3 440.6 L667.5 442.6 L669.8 444.6 L672 446.6 L674.3 448.6 L676.6 450.6 L678.8 452.5 L681.1 454.5 L683.3 456.5 L685.6 458.5 L687.8 460.6 L690 462.6 L692.2 464.6 L694.4 466.7 L696.6 468.7 L698.8 470.8 L701 472.9 L703.1 475 L705.3 477.1 L707.4 479.2 L709.6 481.3 L711.8 483.3 L714 485.4 L716.1 487.5 L718.3 489.5 L720.5 491.6 L722.7 493.7 L724.9 495.7 L727 497.8 L729.2 500 L731.3 502.1 L733.3 504.3 L735.3 506.5 L737.3 508.8 L739.3 511 L741.3 513.3 L743.2 515.6 L745.2 517.9 L747.2 520.1 L749.1 522.4 L751.1 524.7 L753.1 527 L755 529.3 L757 531.5 L758.9 533.9 L760.8 536.2 L762.6 538.5 L764.5 540.9 L766.2 543.3 L768 545.8 L769.7 548.3 L771.3 550.8 L772.9 553.3 L774.5 555.9 L776 558.5 L777.5 561.1 L779 563.7 L780.4 566.3 L781.8 569 L783.1 571.7 L784.4 574.4 L785.7 577.1 L786.9 579.9 L788 582.7 L789.1 585.5 L790.2 588.3 L791.1 591.1 L792.1 594 L793 596.8 L793.8 599.7 L794.5 602.6 L795.2 605.5 L795.9 608.5 L796.4 611.4 L796.9 614.4 L797.4 617.3 L797.8 620.3 L798.1 623.3 L798.4 626.3 L798.7 629.3 L798.9 632.3 L799.1 635.3 L799.3 638.3 L799.5 641.3 L799.6 644.3 L799.8 647.3 L799.9 650.3 L800 653.3 L800.2 656.3 L800.3 659.3" fill="none" stroke="#17becf" stroke-opacity="0.55" stroke-width="1.7" stroke-linejoin="round"/>
<path d="M240.2 141.8 L243.2 142.1 L246.2 142.3 L249 142 L251.5 140.6 L252.5 143.3 L253.6 146.1 L254.6 148.9 L255.7 151.7 L257.2 154.3 L258.8 156.9 L260.4 159.4 L262.6 161.4 L264.9 163.3 L266.8 165.6 L268.4 168.1 L270.8 169.4 L273.7 170.1 L275.1 172.6 L276.2 175.3 L278.3 177.5 L280.4 179.6 L282.3 181.9 L284.1 184.3 L285.9 186.8 L287.6 189.2 L289.4 191.7 L291.1 194.1 L292.9 196.5 L294.8 198.9 L296.7 201.2 L298.7 203.4 L301.1 205.2 L303.8 206.3 L306.6 207.4 L309.4 208.6 L312.2 209.7 L314.9 211 L317.6 212.3 L320.3 213.7 L322.9 215.1 L325.5 216.6 L328.1 218.2 L330.7 219.7 L333.3 221 L336.1 222 L339 222.9 L341.6 224 L344 225.6 L346 227.6 L347.9 229.9 L349.9 232.1 L352 234.2 L354.4 236 L356.9 237.6 L359.4 239.2 L362 240.8 L364.5 242.4 L367 244.1 L369.5 245.8 L371.9 247.5 L374.4 249.2 L376.9 250.9 L379.3 252.7 L381.8 254.4 L384.2 256.2 L386.6 258 L388.9 259.9 L391.2 261.8 L393.4 263.9 L395.6 265.9 L397.7 268 L399.9 270 L402.1 272.1 L404.4 274 L406.7 276 L409 277.9 L411.3 279.8 L413.7 281.7 L416 283.6 L418.4 285.4 L420.8 287.3 L423.1 289.1 L425.6 290.9 L428 292.6 L430.4 294.4 L432.9 296.1 L435.4 297.8 L437.8 299.5 L440.3 301.2 L442.7 303 L445.2 304.7 L447.6 306.5 L450 308.3 L452.5 310 L454.9 311.7 L457.4 313.5 L459.9 315.1 L462.4 316.8 L464.9 318.4 L467.5 319.9 L470.1 321.4 L472.7 322.9 L475.3 324.5 L477.8 326 L480.4 327.6 L482.9 329.2 L485.4 330.8 L487.9 332.5 L490.3 334.3 L492.7 336 L495.2 337.8 L497.6 339.6 L500 341.4 L502.4 343.2 L504.8 345 L507.2 346.7 L509.7 348.5 L512.1 350.2 L514.6 352 L517 353.7 L519.5 355.4 L522 357.1 L524.5 358.8 L526.9 360.6 L529.4 362.3 L531.9 364 L534.3 365.7 L536.8 367.4 L539.2 369.2 L541.7 370.9 L544.2 372.6 L546.6 374.4 L549.1 376.1 L551.5 377.8 L554 379.6 L556.4 381.3 L558.9 383 L561.3 384.8 L563.8 386.5 L566.2 388.3 L568.7 390 L571.1 391.8 L573.6 393.5 L576 395.3 L578.5 397 L580.9 398.7 L583.4 400.5 L585.9 402.2 L588.3 403.9 L590.8 405.6 L593.3 407.3 L595.8 409 L598.2 410.7 L600.7 412.4 L603.2 414.1 L605.7 415.8 L608.2 417.5 L610.6 419.2 L613.1 420.9 L615.6 422.6 L618 424.3 L620.5 426.1 L623 427.8 L625.4 429.5 L627.9 431.3 L630.3 433 L632.7 434.8 L635.2 436.5 L637.6 438.3 L640 440.1 L642.4 441.9 L644.8 443.7 L647.2 445.5 L649.6 447.4 L652 449.2 L654.4 451 L656.8 452.8 L659.2 454.7 L661.5 456.5 L663.9 458.4 L666.2 460.2 L668.6 462.1 L670.9 464 L673.3 465.9 L675.6 467.8 L677.9 469.7 L680.3 471.6 L682.6 473.5 L684.8 475.5 L687.1 477.4 L689.4 479.4 L691.6 481.4 L693.8 483.4 L696 485.5 L698.3 487.5 L700.5 489.5 L702.7 491.5 L705 493.5 L707.2 495.5 L709.5 497.5 L711.7 499.5 L714 501.5 L716.2 503.5 L718.4 505.5 L720.7 507.5 L722.9 509.5 L725.1 511.6 L727.3 513.6 L729.5 515.7 L731.7 517.8 L733.8 519.9 L736 522 L738.1 524.1 L740.2 526.2 L742.3 528.3 L744.4 530.5 L746.5 532.6 L748.6 534.8 L750.6 537 L752.7 539.2 L754.7 541.5 L756.6 543.8 L758.6 546 L760.5 548.4 L762.3 550.7 L764.1 553.1 L765.9 555.5 L767.7 558 L769.4 560.4 L771 562.9 L772.7 565.5 L774.2 568 L775.8 570.6 L777.2 573.2 L778.7 575.8 L780 578.5 L781.4 581.2 L782.7 583.9 L783.9 586.6 L785.2 589.4 L786.4 592.1 L787.5 594.9 L788.6 597.7 L789.7 600.5 L790.7 603.3 L791.7 606.1 L792.6 609 L793.5 611.9 L794.3 614.7 L795 617.6 L795.7 620.6 L796.3 623.5 L796.8 626.5 L797.3 629.4 L797.7 632.4 L798.1 635.4 L798.5 638.3 L798.8 641.3 L799.1 644.3 L799.4 647.3 L799.6 650.3 L799.8 653.3 L800.1 656.3 L800.3 659.3" fill="none" stroke="#17becf" stroke-opacity="0.55" stroke-width="1.7" stroke-linejoin="round"/>
<path d="M130.8 56.9 L130.8 59.4 L130.8 61.9 L130.8 64.4 L130.9 66.9 L130.9 69.4 L130.9 71.9 L131 74.4 L131 76.9 L131 79.4 L131 81.9 L131.1 84.4 L131.1 86.9 L131.1 89.4 L131.2 91.9 L131.2 94.4 L131.2 96.9 L131.3 99.4 L131.3 101.9 L131.3 104.4 L131.4 106.9 L131.4 109.4 L131.5 111.9 L131.5 114.4 L131.6 116.9 L131.6 119.4 L131.7 121.9 L131.8 124.4 L131.8 126.9 L131.9 129.4 L132 131.9 L132.1 134.4 L132.1 136.9 L132.2 139.4 L132.3 141.9 L132.4 144.4 L132.5 146.9 L132.6 149.4 L132.6 151.9 L132.7 154.4 L132.9 156.9 L133 159.4 L133.1 161.9 L133.2 164.4 L133.4 166.9 L133.5 169.4 L133.6 171.9 L133.8 174.4 L133.9 176.9 L134 179.4 L134.2 181.9 L134.4 184.4 L134.5 186.9 L134.7 189.4 L134.9 191.8 L135.1 194.3 L135.3 196.8 L135.6 199.3 L135.8 201.8 L136.1 204.3 L136.4 206.8 L136.7 209.3 L136.9 211.7 L137.3 214.2 L137.6 216.7 L137.9 219.2 L138.2 221.7 L138.6 224.1 L139 226.6 L139.3 229.1 L139.8 231.5 L140.2 234 L140.7 236.4 L141.2 238.9 L141.7 241.3 L142.3 243.8 L142.9 246.2 L143.5 248.6 L144.1 251 L144.7 253.5 L145.4 255.9 L146 258.3 L146.7 260.7 L147.4 263.1 L148.2 265.5 L148.9 267.8 L149.7 270.2 L150.5 272.6 L151.4 274.9 L152.2 277.3 L153.1 279.6 L154 281.9 L154.9 284.3 L155.9 286.5 L156.9 288.8 L158 291.1 L159.1 293.3 L160.2 295.6 L161.3 297.8 L162.5 300 L163.7 302.2 L164.9 304.3 L166.2 306.5 L167.4 308.7 L168.7 310.8 L170 312.9 L171.4 315 L172.8 317.1 L174.2 319.2 L175.6 321.2 L177 323.3 L178.5 325.3 L180 327.3 L181.4 329.3 L182.9 331.3 L184.4 333.4 L185.9 335.4 L187.3 337.4 L188.8 339.4 L190.3 341.4 L191.8 343.5 L193.2 345.5 L194.7 347.5 L196.2 349.5 L197.7 351.5 L199.3 353.5 L200.8 355.4 L202.4 357.3 L204 359.2 L205.7 361.1 L207.3 362.9 L209.1 364.7 L210.8 366.5 L212.6 368.3 L214.4 370 L216.2 371.8 L218 373.5 L219.8 375.1 L221.7 376.8 L223.6 378.4 L225.5 380.1 L227.4 381.6 L229.4 383.2 L231.4 384.7 L233.4 386.2 L235.4 387.6 L237.5 389 L239.5 390.4 L241.6 391.8 L243.8 393.1 L245.9 394.4 L248 395.7 L250.2 396.9 L252.3 398.2 L254.5 399.5 L256.6 400.8 L258.8 402.1 L260.9 403.4 L263 404.7 L265.1 406.1 L267.2 407.4 L269.3 408.8 L271.4 410.2 L273.5 411.6 L275.5 413 L277.6 414.3 L279.7 415.7 L281.8 417 L283.9 418.4 L286.1 419.7 L288.2 421 L290.3 422.3 L292.5 423.6 L294.6 424.9 L296.8 426.2 L298.9 427.4 L301.1 428.7 L303.2 429.9 L305.4 431.2 L307.6 432.4 L309.8 433.6 L312 434.7 L314.2 435.9 L316.5 437 L318.7 438 L321 439.1 L323.3 440.2 L325.5 441.2 L327.8 442.2 L330.1 443.3 L332.4 444.3 L334.6 445.3 L336.9 446.4 L339.2 447.4 L341.5 448.5 L343.7 449.5 L346 450.5 L348.3 451.6 L350.6 452.6 L352.8 453.6 L355.1 454.7 L357.4 455.7 L359.7 456.8 L361.9 457.8 L364.2 458.8 L366.5 459.9 L368.8 460.9 L371.1 461.9 L373.3 462.9 L375.6 463.9 L377.9 465 L380.2 466 L382.5 467 L384.8 468 L387.1 469 L389.4 470 L391.7 471 L394 471.9 L396.3 472.9 L398.6 473.9 L400.9 474.9 L403.2 475.9 L405.5 476.8 L407.8 477.8 L410.1 478.7 L412.4 479.7 L414.7 480.6 L417 481.6 L419.4 482.5 L421.7 483.4 L424 484.4 L426.3 485.3 L428.7 486.2 L431 487.1 L433.3 488 L435.6 489 L438 489.9 L440.3 490.8 L442.6 491.7 L445 492.5 L447.3 493.4 L449.7 494.3 L452 495.2 L454.3 496.1 L456.7 496.9 L459 497.8 L461.4 498.7 L463.7 499.5 L466.1 500.4 L468.4 501.3 L470.8 502.1 L473.1 503 L475.5 503.8 L477.8 504.7 L480.2 505.5 L482.5 506.4 L484.9 507.2 L487.2 508 L489.6 508.9 L492 509.7 L494.3 510.5 L496.7 511.4 L499 512.2 L501.4 513 L503.8 513.8 L506.1 514.7 L508.5 515.5 L510.8 516.3 L513.2 517.1 L515.6 518 L517.9 518.8 L520.3 519.6 L522.6 520.4 L525 521.2 L527.4 522.1 L529.7 522.9 L532.1 523.7 L534.5 524.5 L536.8 525.3 L539.2 526.1 L541.6 527 L543.9 527.8 L546.3 528.6 L548.6 529.4 L551 530.2 L553.4 531 L555.7 531.9 L558.1 532.7 L560.5 533.5 L562.8 534.3 L565.2 535.1 L567.5 536 L569.9 536.8 L572.3 537.6 L574.6 538.4 L577 539.3 L579.3 540.1 L581.7 540.9 L584.1 541.7 L586.4 542.6 L588.8 543.4 L591.1 544.2 L593.5 545.1 L595.9 545.9 L598.2 546.7 L600.6 547.6 L602.9 548.4 L605.3 549.2 L607.7 550.1 L610 550.9 L612.4 551.7 L614.7 552.6 L617.1 553.4 L619.4 554.2 L621.8 555.1 L624.1 555.9 L626.5 556.8 L628.9 557.6 L631.2 558.5 L633.6 559.3 L635.9 560.1 L638.3 561 L640.6 561.8 L643 562.7 L645.3 563.6 L647.7 564.4 L650 565.3 L652.4 566.1 L654.7 567 L657.1 567.8 L659.4 568.7 L661.8 569.6 L664.1 570.4 L666.5 571.3 L668.8 572.2 L671.1 573 L673.5 573.9 L675.8 574.8 L678.2 575.7 L680.5 576.6 L682.8 577.5 L685.2 578.4 L687.5 579.3 L689.8 580.2 L692.2 581.1 L694.5 582 L696.8 582.9 L699.1 583.8 L701.5 584.7 L703.8 585.7 L706.1 586.6 L708.4 587.6 L710.7 588.5 L713 589.5 L715.4 590.4 L717.7 591.4 L720 592.4 L722.3 593.4 L724.5 594.4 L726.8 595.4 L729.1 596.4 L731.4 597.4 L733.7 598.5 L735.9 599.5 L738.2 600.6 L740.5 601.7 L742.7 602.7 L745 603.8 L747.2 605 L749.4 606.1 L751.7 607.2 L753.9 608.4 L756.1 609.5 L758.3 610.7 L760.5 611.9 L762.7 613.1 L764.9 614.3 L767 615.6 L769.2 616.9 L771.3 618.2 L773.3 619.6 L775.4 621 L777.4 622.4 L779.4 624 L781.3 625.6 L783.1 627.2 L784.9 628.9 L786.6 630.7 L788.2 632.6 L789.8 634.5 L791.2 636.5 L792.6 638.5 L793.8 640.7 L794.9 642.8 L795.9 645.1 L796.8 647.4 L797.6 649.7 L798.3 652.1 L799 654.5 L799.6 656.9 L800.2 659.3" fill="none" stroke="#1f77b4" stroke-width="3.3" stroke-linejoin="round" stroke-linecap="butt"/>
<path d="M184.2 133.3 L185.5 135.4 L186.8 137.6 L188.1 139.7 L189.2 142 L190.3 144.2 L191.2 146.5 L192.2 148.8 L193.2 151.1 L194.3 153.4 L195.5 155.6 L196.8 157.7 L198.1 159.9 L199.3 162.1 L200.5 164.3 L201.6 166.5 L202.8 168.7 L204.1 170.9 L205.4 173 L206.8 175.1 L208.2 177.1 L209.6 179.2 L211 181.3 L212.4 183.4 L213.8 185.5 L215.2 187.5 L216.6 189.6 L218 191.7 L219.3 193.8 L220.7 195.9 L222.1 198 L223.4 200.1 L224.6 202.3 L225.9 204.5 L227.1 206.6 L228.4 208.8 L229.6 211 L230.9 213.2 L232.2 215.3 L233.5 217.4 L234.9 219.5 L236.2 221.6 L237.6 223.7 L239 225.8 L240.4 227.9 L241.8 230 L243.2 232.1 L244.6 234.1 L246 236.2 L247.5 238.2 L248.9 240.3 L250.4 242.3 L251.9 244.3 L253.4 246.3 L255.1 248.2 L256.7 250 L258.4 251.9 L260.1 253.7 L261.8 255.6 L263.5 257.4 L265.2 259.3 L266.9 261.1 L268.6 263 L270.3 264.8 L272 266.7 L273.6 268.6 L275.2 270.5 L276.8 272.4 L278.3 274.4 L279.8 276.4 L281.3 278.5 L282.8 280.5 L284.2 282.5 L285.7 284.5 L287.2 286.5 L288.8 288.5 L290.4 290.4 L292.1 292.3 L293.7 294.2 L295.4 296 L297.1 297.9 L298.7 299.7 L300.4 301.6 L302.2 303.4 L303.9 305.2 L305.7 307 L307.4 308.8 L309.2 310.6 L310.9 312.4 L312.7 314.2 L314.4 316 L316.2 317.8 L317.9 319.6 L319.6 321.4 L321.3 323.2 L323.1 325 L324.8 326.9 L326.5 328.7 L328.3 330.5 L330 332.3 L331.7 334.1 L333.5 335.9 L335.2 337.7 L337 339.5 L338.8 341.2 L340.5 343 L342.3 344.8 L344 346.6 L345.8 348.4 L347.6 350.1 L349.4 351.9 L351.2 353.6 L353 355.4 L354.8 357.1 L356.6 358.8 L358.4 360.5 L360.3 362.2 L362.1 363.9 L364 365.6 L365.9 367.2 L367.8 368.9 L369.7 370.5 L371.6 372.1 L373.5 373.7 L375.5 375.3 L377.4 376.9 L379.4 378.5 L381.3 380 L383.3 381.6 L385.3 383.1 L387.2 384.7 L389.2 386.2 L391.2 387.8 L393.1 389.4 L395 391 L397 392.6 L398.9 394.2 L400.8 395.8 L402.7 397.4 L404.7 399 L406.6 400.5 L408.6 402.1 L410.6 403.6 L412.6 405.1 L414.6 406.6 L416.6 408.1 L418.6 409.6 L420.6 411 L422.7 412.5 L424.7 413.9 L426.8 415.3 L428.9 416.8 L431 418.1 L433.1 419.5 L435.2 420.9 L437.3 422.2 L439.4 423.5 L441.5 424.8 L443.7 426.1 L445.8 427.4 L448 428.7 L450.1 430 L452.3 431.3 L454.4 432.6 L456.6 433.9 L458.8 435.1 L460.9 436.4 L463.1 437.7 L465.2 438.9 L467.4 440.2 L469.6 441.4 L471.8 442.7 L473.9 443.9 L476.1 445.2 L478.3 446.4 L480.5 447.7 L482.6 448.9 L484.8 450.1 L487 451.4 L489.2 452.6 L491.4 453.8 L493.6 455 L495.7 456.3 L497.9 457.5 L500.1 458.7 L502.3 459.9 L504.5 461.2 L506.7 462.4 L508.9 463.6 L511.1 464.8 L513.3 466 L515.5 467.2 L517.7 468.4 L519.9 469.6 L522.1 470.8 L524.3 472 L526.5 473.2 L528.7 474.4 L530.9 475.6 L533.1 476.8 L535.3 478 L537.5 479.2 L539.7 480.4 L541.9 481.6 L544.1 482.8 L546.3 484 L548.5 485.2 L550.7 486.4 L552.9 487.6 L555.1 488.8 L557.3 489.9 L559.5 491.1 L561.7 492.3 L563.9 493.5 L566.1 494.7 L568.3 495.9 L570.6 497.1 L572.8 498.2 L575 499.4 L577.2 500.6 L579.4 501.8 L581.6 503 L583.8 504.1 L586 505.3 L588.3 506.5 L590.5 507.7 L592.7 508.8 L594.9 510 L597.1 511.2 L599.3 512.3 L601.5 513.5 L603.8 514.7 L606 515.9 L608.2 517 L610.4 518.2 L612.6 519.4 L614.8 520.5 L617 521.7 L619.3 522.9 L621.5 524.1 L623.7 525.2 L625.9 526.4 L628.1 527.6 L630.3 528.7 L632.6 529.9 L634.8 531.1 L637 532.3 L639.2 533.4 L641.4 534.6 L643.6 535.8 L645.8 536.9 L648.1 538.1 L650.3 539.3 L652.5 540.5 L654.7 541.7 L656.9 542.8 L659.1 544 L661.3 545.2 L663.5 546.4 L665.7 547.6 L667.9 548.8 L670.2 550 L672.4 551.2 L674.6 552.4 L676.8 553.6 L679 554.8 L681.1 556 L683.3 557.2 L685.5 558.4 L687.7 559.6 L689.9 560.8 L692.1 562.1 L694.3 563.3 L696.5 564.5 L698.6 565.8 L700.8 567 L703 568.3 L705.2 569.5 L707.3 570.8 L709.5 572 L711.6 573.3 L713.8 574.6 L715.9 575.9 L718.1 577.2 L720.2 578.5 L722.4 579.8 L724.5 581.1 L726.6 582.4 L728.7 583.8 L730.9 585.1 L733 586.5 L735.1 587.8 L737.2 589.2 L739.3 590.6 L741.4 592 L743.4 593.3 L745.5 594.8 L747.6 596.2 L749.6 597.6 L751.7 599 L753.8 600.5 L755.8 601.9 L757.8 603.4 L759.9 604.8 L761.9 606.3 L763.9 607.8 L765.9 609.3 L767.9 610.9 L769.8 612.4 L771.7 614 L773.6 615.6 L775.5 617.3 L777.3 619 L779.1 620.7 L780.9 622.5 L782.6 624.3 L784.2 626.2 L785.8 628.1 L787.4 630 L788.8 632 L790.2 634.1 L791.5 636.2 L792.7 638.3 L793.9 640.5 L794.9 642.8 L795.9 645 L796.7 647.4 L797.5 649.7 L798.2 652.1 L798.9 654.5 L799.6 656.9 L800.2 659.3" fill="none" stroke="#ff7f0e" stroke-width="3.3" stroke-linejoin="round" stroke-linecap="butt"/>
<path d="M169 90.7 L169.6 93.1 L170.1 95.6 L170.7 98 L171.2 100.4 L171.8 102.9 L172.4 105.3 L173 107.8 L173.6 110.2 L174.2 112.6 L174.9 115 L175.7 117.4 L176.4 119.8 L177.1 122.2 L177.8 124.6 L178.6 126.9 L179.4 129.3 L180.2 131.7 L181.1 134 L182.1 136.3 L183.1 138.6 L184 140.9 L185 143.2 L185.9 145.6 L186.7 147.9 L187.4 150.3 L188.1 152.7 L188.8 155.1 L189.6 157.5 L190.4 159.9 L191.2 162.2 L192.1 164.5 L193.1 166.9 L194 169.2 L194.9 171.5 L195.9 173.8 L196.8 176.1 L197.8 178.4 L198.8 180.7 L199.9 183 L200.9 185.2 L202 187.5 L203.1 189.8 L204.1 192 L205.2 194.3 L206.3 196.5 L207.4 198.8 L208.7 200.9 L210 203.1 L211.3 205.2 L212.6 207.3 L213.9 209.5 L215.2 211.6 L216.5 213.7 L217.8 215.8 L219.2 217.9 L220.6 220 L222 222.1 L223.4 224.2 L224.8 226.2 L226.2 228.3 L227.6 230.4 L229 232.4 L230.4 234.5 L231.8 236.6 L233.2 238.6 L234.6 240.7 L236.1 242.8 L237.5 244.8 L238.9 246.9 L240.3 248.9 L241.8 251 L243.2 253 L244.6 255.1 L246.1 257.1 L247.6 259.1 L249.1 261.1 L250.7 263.1 L252.3 265 L253.9 266.9 L255.5 268.8 L257.1 270.7 L258.7 272.7 L260.3 274.6 L261.9 276.5 L263.5 278.4 L265.1 280.3 L266.7 282.2 L268.3 284.2 L269.9 286.1 L271.5 288 L273.2 289.9 L274.9 291.7 L276.6 293.5 L278.4 295.3 L280.1 297 L281.9 298.8 L283.7 300.6 L285.4 302.4 L287.1 304.2 L288.8 306 L290.5 307.9 L292.2 309.7 L293.9 311.5 L295.7 313.3 L297.5 315.1 L299.2 316.8 L301 318.6 L302.8 320.3 L304.6 322.1 L306.5 323.7 L308.4 325.3 L310.3 326.9 L312.3 328.4 L314.2 330 L316.2 331.6 L318.1 333.1 L320.1 334.7 L322 336.3 L324 337.9 L325.9 339.5 L327.8 341 L329.8 342.6 L331.7 344.2 L333.6 345.8 L335.6 347.4 L337.5 349 L339.4 350.5 L341.4 352.1 L343.3 353.7 L345.3 355.3 L347.2 356.8 L349.2 358.4 L351.1 359.9 L353.1 361.5 L355.1 363 L357 364.6 L359 366.1 L361 367.6 L363 369.1 L365 370.6 L367 372.1 L369 373.6 L371 375.1 L373.1 376.5 L375.1 378 L377.2 379.4 L379.2 380.8 L381.3 382.2 L383.4 383.6 L385.5 385 L387.6 386.3 L389.7 387.6 L391.8 389 L393.9 390.3 L396.1 391.6 L398.2 392.9 L400.3 394.2 L402.5 395.5 L404.6 396.8 L406.7 398.1 L408.9 399.4 L411 400.8 L413.1 402.1 L415.2 403.4 L417.3 404.8 L419.4 406.2 L421.5 407.5 L423.6 408.9 L425.7 410.2 L427.8 411.6 L429.9 412.9 L432 414.3 L434.1 415.6 L436.3 416.9 L438.4 418.2 L440.5 419.5 L442.7 420.8 L444.8 422.1 L447 423.3 L449.2 424.6 L451.3 425.9 L453.5 427.1 L455.7 428.4 L457.8 429.6 L460 430.9 L462.2 432.1 L464.3 433.3 L466.5 434.6 L468.7 435.8 L470.9 437 L473 438.3 L475.2 439.5 L477.4 440.7 L479.6 441.9 L481.8 443.2 L483.9 444.4 L486.1 445.6 L488.3 446.8 L490.5 448 L492.7 449.2 L494.9 450.4 L497.1 451.6 L499.3 452.8 L501.5 454 L503.7 455.2 L505.9 456.4 L508 457.6 L510.2 458.8 L512.4 460 L514.6 461.2 L516.8 462.4 L519 463.6 L521.2 464.8 L523.4 466 L525.6 467.2 L527.8 468.3 L530.1 469.5 L532.3 470.7 L534.5 471.9 L536.7 473.1 L538.9 474.2 L541.1 475.4 L543.3 476.6 L545.5 477.8 L547.7 478.9 L549.9 480.1 L552.1 481.3 L554.3 482.5 L556.5 483.6 L558.7 484.8 L561 486 L563.2 487.1 L565.4 488.3 L567.6 489.5 L569.8 490.6 L572 491.8 L574.2 493 L576.4 494.1 L578.7 495.3 L580.9 496.5 L583.1 497.6 L585.3 498.8 L587.5 499.9 L589.7 501.1 L592 502.3 L594.2 503.4 L596.4 504.6 L598.6 505.7 L600.8 506.9 L603 508.1 L605.3 509.2 L607.5 510.4 L609.7 511.5 L611.9 512.7 L614.1 513.8 L616.3 515 L618.6 516.2 L620.8 517.3 L623 518.5 L625.2 519.6 L627.4 520.8 L629.6 521.9 L631.9 523.1 L634.1 524.3 L636.3 525.4 L638.5 526.6 L640.7 527.8 L642.9 528.9 L645.1 530.1 L647.3 531.3 L649.6 532.4 L651.8 533.6 L654 534.8 L656.2 535.9 L658.4 537.1 L660.6 538.3 L662.8 539.5 L665 540.7 L667.2 541.8 L669.4 543 L671.6 544.2 L673.8 545.4 L676 546.6 L678.2 547.8 L680.4 549 L682.6 550.2 L684.8 551.4 L687 552.6 L689.1 553.9 L691.3 555.1 L693.5 556.3 L695.7 557.5 L697.9 558.8 L700 560 L702.2 561.3 L704.4 562.5 L706.5 563.8 L708.7 565 L710.8 566.3 L713 567.6 L715.1 568.8 L717.3 570.1 L719.4 571.4 L721.6 572.7 L723.7 574 L725.8 575.4 L727.9 576.7 L730 578 L732.2 579.4 L734.3 580.7 L736.4 582.1 L738.5 583.4 L740.5 584.8 L742.6 586.2 L744.7 587.6 L746.8 589 L748.9 590.4 L750.9 591.8 L753 593.2 L755 594.6 L757.1 596.1 L759.1 597.5 L761.1 599 L763.2 600.5 L765.2 601.9 L767.1 603.5 L769.1 605 L771 606.6 L773 608.2 L774.8 609.8 L776.7 611.5 L778.5 613.2 L780.2 615 L781.9 616.8 L783.5 618.7 L785.1 620.6 L786.6 622.5 L788 624.5 L789.4 626.6 L790.7 628.7 L791.9 630.9 L793 633.1 L794 635.3 L794.9 637.6 L795.7 639.9 L796.4 642.3 L797.1 644.7 L797.7 647.1 L798.3 649.5 L798.8 651.9 L799.3 654.4 L799.7 656.8 L800.2 659.3" fill="none" stroke="#2ca02c" stroke-width="3.3" stroke-linejoin="round" stroke-linecap="butt"/>
<path d="M275.5 124 L276.7 126.2 L277.9 128.4 L279.1 130.6 L280.4 132.8 L281.6 134.9 L282.9 137.1 L284.2 139.2 L285.5 141.4 L286.8 143.5 L288.2 145.6 L289.5 147.7 L290.9 149.8 L292.3 151.9 L293.6 154 L295 156.1 L296.3 158.2 L297.6 160.4 L299 162.5 L300.4 164.5 L302 166.4 L303.6 168.3 L305.3 170.2 L306.9 172.1 L308.5 174 L310.2 175.9 L311.8 177.8 L313.4 179.7 L315.1 181.6 L316.8 183.4 L318.5 185.2 L320.3 187 L322 188.8 L323.7 190.6 L325.4 192.5 L327.2 194.3 L328.9 196.1 L330.6 197.9 L332.3 199.8 L334 201.6 L335.8 203.3 L337.6 205.1 L339.4 206.8 L341.2 208.6 L343 210.3 L344.9 211.9 L346.7 213.6 L348.6 215.3 L350.4 217.1 L352.1 218.8 L353.9 220.6 L355.6 222.5 L357.3 224.3 L359 226.2 L360.7 228 L362.4 229.8 L364.1 231.6 L365.8 233.4 L367.6 235.2 L369.3 237 L371.1 238.8 L372.9 240.6 L374.6 242.3 L376.4 244.1 L378.2 245.9 L380 247.7 L381.7 249.4 L383.5 251.2 L385.3 252.9 L387.1 254.6 L389 256.3 L390.8 258 L392.7 259.6 L394.6 261.2 L396.6 262.8 L398.5 264.4 L400.4 266 L402.4 267.6 L404.3 269.1 L406.3 270.7 L408.2 272.3 L410.2 273.9 L412.1 275.5 L413.9 277.2 L415.8 278.8 L417.7 280.5 L419.5 282.2 L421.3 283.9 L423.1 285.6 L425 287.3 L426.8 289 L428.7 290.7 L430.6 292.3 L432.5 293.9 L434.4 295.5 L436.4 297.1 L438.3 298.6 L440.3 300.2 L442.3 301.7 L444.3 303.2 L446.3 304.7 L448.3 306.1 L450.4 307.6 L452.4 309.1 L454.4 310.6 L456.4 312.1 L458.4 313.6 L460.4 315.1 L462.4 316.6 L464.4 318.1 L466.4 319.6 L468.4 321.1 L470.4 322.6 L472.4 324.1 L474.5 325.6 L476.5 327.1 L478.4 328.6 L480.4 330.1 L482.4 331.6 L484.3 333.2 L486.3 334.8 L488.2 336.4 L490.1 338 L492 339.6 L493.9 341.3 L495.8 342.9 L497.7 344.5 L499.6 346.2 L501.5 347.8 L503.4 349.4 L505.4 351 L507.3 352.6 L509.2 354.2 L511.2 355.8 L513.1 357.3 L515.1 358.9 L517 360.5 L519 362 L521 363.6 L522.9 365.1 L524.9 366.6 L526.9 368.2 L528.9 369.7 L530.9 371.2 L532.9 372.7 L534.9 374.2 L536.9 375.7 L538.9 377.2 L540.9 378.7 L542.9 380.2 L544.9 381.7 L546.9 383.2 L548.9 384.7 L550.9 386.2 L553 387.7 L555 389.1 L557 390.6 L559.1 392.1 L561.1 393.5 L563.1 395 L565.1 396.5 L567.2 397.9 L569.2 399.4 L571.3 400.8 L573.3 402.3 L575.3 403.7 L577.4 405.2 L579.4 406.7 L581.4 408.1 L583.5 409.6 L585.5 411 L587.6 412.5 L589.6 413.9 L591.7 415.4 L593.7 416.8 L595.7 418.3 L597.8 419.7 L599.8 421.2 L601.8 422.6 L603.9 424.1 L605.9 425.5 L608 427 L610 428.5 L612 429.9 L614.1 431.4 L616.1 432.9 L618.1 434.3 L620.1 435.8 L622.2 437.3 L624.2 438.7 L626.2 440.2 L628.2 441.7 L630.3 443.2 L632.3 444.7 L634.3 446.2 L636.3 447.6 L638.3 449.1 L640.3 450.6 L642.3 452.1 L644.3 453.6 L646.3 455.2 L648.3 456.7 L650.3 458.2 L652.3 459.7 L654.3 461.2 L656.3 462.8 L658.2 464.3 L660.2 465.8 L662.2 467.4 L664.2 468.9 L666.1 470.5 L668.1 472 L670.1 473.6 L672 475.1 L674 476.7 L675.9 478.3 L677.9 479.8 L679.8 481.4 L681.7 483 L683.7 484.6 L685.6 486.2 L687.5 487.8 L689.4 489.4 L691.4 491 L693.3 492.6 L695.2 494.3 L697.1 495.9 L699 497.5 L700.9 499.2 L702.8 500.8 L704.6 502.5 L706.5 504.1 L708.4 505.8 L710.3 507.4 L712.1 509.1 L714 510.8 L715.8 512.5 L717.7 514.2 L719.5 515.9 L721.4 517.6 L723.2 519.3 L725 521 L726.9 522.7 L728.7 524.4 L730.5 526.2 L732.3 527.9 L734.1 529.6 L735.9 531.4 L737.7 533.1 L739.5 534.9 L741.2 536.6 L743 538.4 L744.8 540.2 L746.5 542 L748.3 543.8 L750 545.6 L751.7 547.4 L753.4 549.2 L755.1 551.1 L756.7 553 L758.3 554.9 L759.9 556.8 L761.5 558.8 L763 560.7 L764.6 562.7 L766.1 564.7 L767.5 566.8 L769 568.8 L770.4 570.8 L771.8 572.9 L773.2 575 L774.6 577.1 L775.9 579.2 L777.3 581.3 L778.6 583.4 L779.8 585.6 L781.1 587.8 L782.3 589.9 L783.6 592.1 L784.7 594.3 L785.9 596.5 L787 598.8 L788.1 601 L789.1 603.3 L790.1 605.6 L791.1 607.9 L791.9 610.2 L792.7 612.6 L793.5 614.9 L794.2 617.3 L794.8 619.7 L795.4 622.1 L796 624.6 L796.5 627 L797 629.5 L797.4 631.9 L797.8 634.4 L798.1 636.9 L798.4 639.4 L798.7 641.8 L799 644.3 L799.2 646.8 L799.4 649.3 L799.6 651.8 L799.8 654.3 L800 656.8 L800.2 659.3" fill="none" stroke="#9467bd" stroke-width="3.3" stroke-linejoin="round" stroke-linecap="butt"/>
<path d="M240.2 93.6 L242.5 94.7 L244.7 95.8 L246.8 97 L248.8 98.5 L250.5 100.2 L252.2 102.1 L253.7 104 L255.3 106 L256.7 108 L258.2 110.1 L259.5 112.2 L260.9 114.3 L262.2 116.4 L263.6 118.5 L265.1 120.5 L266.6 122.5 L268.2 124.5 L269.8 126.4 L271.5 128.2 L273.4 129.8 L275.3 131.4 L277.3 132.9 L279.2 134.5 L281.1 136.2 L282.8 138 L284.5 139.9 L286 141.8 L287.4 143.9 L288.7 146 L290 148.1 L291.5 150.1 L293.2 152 L295 153.7 L296.9 155.3 L298.8 156.9 L300.8 158.4 L302.9 159.8 L305 161.2 L307 162.6 L309.1 164 L311.2 165.4 L313.2 166.9 L315.2 168.3 L317.2 169.9 L319.1 171.5 L321 173.1 L322.9 174.7 L324.8 176.4 L326.7 178 L328.6 179.7 L330.5 181.3 L332.4 183 L334.3 184.6 L336.2 186.2 L338.1 187.9 L340 189.5 L342 191 L343.9 192.6 L345.9 194.2 L347.9 195.7 L349.8 197.3 L351.8 198.9 L353.7 200.4 L355.7 202 L357.6 203.6 L359.6 205.1 L361.5 206.8 L363.4 208.4 L365.2 210.1 L367.1 211.8 L368.9 213.5 L370.6 215.3 L372.4 217.1 L374.2 218.8 L376 220.6 L377.8 222.3 L379.7 224 L381.5 225.7 L383.4 227.4 L385.2 229.1 L387 230.8 L388.9 232.5 L390.7 234.2 L392.6 235.9 L394.4 237.6 L396.2 239.3 L398 241 L399.9 242.7 L401.7 244.4 L403.6 246.1 L405.5 247.7 L407.4 249.4 L409.3 251 L411.2 252.6 L413.1 254.2 L415.1 255.8 L417 257.4 L418.9 259 L420.9 260.6 L422.8 262.1 L424.8 263.7 L426.7 265.3 L428.7 266.8 L430.7 268.4 L432.6 270 L434.6 271.5 L436.5 273.1 L438.5 274.7 L440.5 276.2 L442.4 277.8 L444.4 279.3 L446.3 280.9 L448.3 282.5 L450.2 284 L452.2 285.6 L454.2 287.2 L456.1 288.7 L458.1 290.3 L460 291.9 L462 293.5 L463.9 295.1 L465.8 296.7 L467.7 298.3 L469.7 299.9 L471.6 301.5 L473.5 303.1 L475.4 304.8 L477.3 306.4 L479.2 308 L481.1 309.6 L483 311.3 L484.9 312.9 L486.8 314.5 L488.7 316.2 L490.6 317.8 L492.5 319.4 L494.5 321 L496.4 322.6 L498.3 324.2 L500.2 325.8 L502.2 327.4 L504.1 329 L506.1 330.6 L508 332.1 L510 333.7 L512 335.2 L514 336.8 L515.9 338.3 L517.9 339.8 L519.9 341.3 L521.9 342.9 L523.9 344.4 L525.9 345.9 L527.9 347.4 L529.9 348.9 L532 350.3 L534 351.8 L536 353.3 L538 354.8 L540.1 356.3 L542.1 357.7 L544.1 359.2 L546.1 360.7 L548.2 362.1 L550.2 363.6 L552.3 365 L554.3 366.5 L556.3 367.9 L558.4 369.4 L560.4 370.9 L562.5 372.3 L564.5 373.8 L566.6 375.2 L568.6 376.7 L570.6 378.1 L572.7 379.6 L574.7 381 L576.8 382.5 L578.8 383.9 L580.9 385.4 L582.9 386.8 L584.9 388.3 L587 389.7 L589 391.2 L591.1 392.6 L593.1 394.1 L595.1 395.6 L597.2 397 L599.2 398.5 L601.2 400 L603.3 401.4 L605.3 402.9 L607.3 404.4 L609.3 405.9 L611.4 407.4 L613.4 408.8 L615.4 410.3 L617.4 411.8 L619.4 413.3 L621.4 414.8 L623.4 416.3 L625.4 417.8 L627.4 419.3 L629.4 420.8 L631.4 422.4 L633.4 423.9 L635.4 425.4 L637.4 426.9 L639.4 428.5 L641.4 430 L643.3 431.5 L645.3 433.1 L647.3 434.6 L649.2 436.2 L651.2 437.7 L653.2 439.3 L655.1 440.9 L657.1 442.4 L659 444 L661 445.6 L662.9 447.2 L664.9 448.8 L666.8 450.4 L668.7 452 L670.6 453.6 L672.6 455.2 L674.5 456.8 L676.4 458.4 L678.3 460 L680.2 461.7 L682.1 463.3 L684 465 L685.9 466.6 L687.8 468.3 L689.6 469.9 L691.5 471.6 L693.4 473.2 L695.3 474.9 L697.1 476.6 L699 478.3 L700.8 480 L702.7 481.7 L704.5 483.4 L706.3 485.1 L708.2 486.8 L710 488.5 L711.8 490.2 L713.6 492 L715.4 493.7 L717.2 495.5 L719 497.2 L720.8 499 L722.6 500.7 L724.4 502.5 L726.1 504.3 L727.9 506 L729.6 507.8 L731.4 509.6 L733.1 511.4 L734.9 513.2 L736.6 515 L738.3 516.9 L740.1 518.7 L741.8 520.5 L743.5 522.4 L745.2 524.2 L746.8 526.1 L748.5 527.9 L750.2 529.8 L751.8 531.7 L753.5 533.6 L755.1 535.5 L756.7 537.4 L758.3 539.3 L759.8 541.3 L761.4 543.3 L762.9 545.3 L764.4 547.3 L765.9 549.3 L767.4 551.3 L768.8 553.4 L770.2 555.4 L771.6 557.5 L772.9 559.6 L774.2 561.8 L775.5 563.9 L776.8 566.1 L778 568.2 L779.3 570.4 L780.5 572.6 L781.6 574.8 L782.8 577.1 L783.9 579.3 L785 581.5 L786.1 583.8 L787.1 586.1 L788.1 588.4 L789.1 590.7 L790 593 L791 595.3 L791.8 597.7 L792.7 600 L793.4 602.4 L794.2 604.8 L794.8 607.2 L795.4 609.6 L796 612 L796.5 614.5 L797 616.9 L797.4 619.4 L797.7 621.8 L798 624.3 L798.3 626.8 L798.6 629.3 L798.8 631.8 L799.1 634.3 L799.3 636.8 L799.4 639.3 L799.6 641.8 L799.7 644.3 L799.9 646.8 L800 649.3 L800.1 651.8 L800.2 654.3 L800.2 656.8 L800.3 659.3" fill="none" stroke="#17becf" stroke-width="3.3" stroke-linejoin="round" stroke-linecap="butt"/>
</g>
<g stroke="#000" fill="none">
<path d="M116.5 683.7h3.6 M813.9 683.7h-3.6" stroke-width="1.1"/>
<path d="M116.5 674.6h3.6 M813.9 674.6h-3.6" stroke-width="1.1"/>
<path d="M116.5 666.5h3.6 M813.9 666.5h-3.6" stroke-width="1.1"/>
<path d="M116.5 659.3h6.6 M813.9 659.3h-6.6" stroke-width="1.5"/>
<path d="M116.5 611.9h3.6 M813.9 611.9h-3.6" stroke-width="1.1"/>
<path d="M116.5 584.1h3.6 M813.9 584.1h-3.6" stroke-width="1.1"/>
<path d="M116.5 564.5h3.6 M813.9 564.5h-3.6" stroke-width="1.1"/>
<path d="M116.5 549.2h3.6 M813.9 549.2h-3.6" stroke-width="1.1"/>
<path d="M116.5 536.7h3.6 M813.9 536.7h-3.6" stroke-width="1.1"/>
<path d="M116.5 526.2h3.6 M813.9 526.2h-3.6" stroke-width="1.1"/>
<path d="M116.5 517h3.6 M813.9 517h-3.6" stroke-width="1.1"/>
<path d="M116.5 509h3.6 M813.9 509h-3.6" stroke-width="1.1"/>
<path d="M116.5 501.8h6.6 M813.9 501.8h-6.6" stroke-width="1.5"/>
<path d="M116.5 454.4h3.6 M813.9 454.4h-3.6" stroke-width="1.1"/>
<path d="M116.5 426.6h3.6 M813.9 426.6h-3.6" stroke-width="1.1"/>
<path d="M116.5 406.9h3.6 M813.9 406.9h-3.6" stroke-width="1.1"/>
<path d="M116.5 391.7h3.6 M813.9 391.7h-3.6" stroke-width="1.1"/>
<path d="M116.5 379.2h3.6 M813.9 379.2h-3.6" stroke-width="1.1"/>
<path d="M116.5 368.7h3.6 M813.9 368.7h-3.6" stroke-width="1.1"/>
<path d="M116.5 359.5h3.6 M813.9 359.5h-3.6" stroke-width="1.1"/>
<path d="M116.5 351.5h3.6 M813.9 351.5h-3.6" stroke-width="1.1"/>
<path d="M116.5 344.2h6.6 M813.9 344.2h-6.6" stroke-width="1.5"/>
<path d="M116.5 296.8h3.6 M813.9 296.8h-3.6" stroke-width="1.1"/>
<path d="M116.5 269.1h3.6 M813.9 269.1h-3.6" stroke-width="1.1"/>
<path d="M116.5 249.4h3.6 M813.9 249.4h-3.6" stroke-width="1.1"/>
<path d="M116.5 234.1h3.6 M813.9 234.1h-3.6" stroke-width="1.1"/>
<path d="M116.5 221.7h3.6 M813.9 221.7h-3.6" stroke-width="1.1"/>
<path d="M116.5 211.1h3.6 M813.9 211.1h-3.6" stroke-width="1.1"/>
<path d="M116.5 202h3.6 M813.9 202h-3.6" stroke-width="1.1"/>
<path d="M116.5 193.9h3.6 M813.9 193.9h-3.6" stroke-width="1.1"/>
<path d="M116.5 186.7h6.6 M813.9 186.7h-6.6" stroke-width="1.5"/>
<path d="M116.5 139.3h3.6 M813.9 139.3h-3.6" stroke-width="1.1"/>
<path d="M116.5 111.6h3.6 M813.9 111.6h-3.6" stroke-width="1.1"/>
<path d="M116.5 91.9h3.6 M813.9 91.9h-3.6" stroke-width="1.1"/>
<path d="M116.5 76.6h3.6 M813.9 76.6h-3.6" stroke-width="1.1"/>
<path d="M116.5 64.1h3.6 M813.9 64.1h-3.6" stroke-width="1.1"/>
<path d="M116.5 53.6h3.6 M813.9 53.6h-3.6" stroke-width="1.1"/>
<path d="M116.5 44.5h3.6 M813.9 44.5h-3.6" stroke-width="1.1"/>
<path d="M116.5 36.4h3.6 M813.9 36.4h-3.6" stroke-width="1.1"/>
<path d="M116.5 29.2h6.6 M813.9 29.2h-6.6" stroke-width="1.5"/>
<path d="M130.1 694v-6.6 M130.1 1.3v6.6" stroke-width="1.5"/>
<path d="M197.1 694v-3.6 M197.1 1.3v3.6" stroke-width="1.1"/>
<path d="M264.1 694v-6.6 M264.1 1.3v6.6" stroke-width="1.5"/>
<path d="M331.1 694v-3.6 M331.1 1.3v3.6" stroke-width="1.1"/>
<path d="M398.1 694v-6.6 M398.1 1.3v6.6" stroke-width="1.5"/>
<path d="M465.1 694v-3.6 M465.1 1.3v3.6" stroke-width="1.1"/>
<path d="M532.2 694v-6.6 M532.2 1.3v6.6" stroke-width="1.5"/>
<path d="M599.2 694v-3.6 M599.2 1.3v3.6" stroke-width="1.1"/>
<path d="M666.2 694v-6.6 M666.2 1.3v6.6" stroke-width="1.5"/>
<path d="M733.2 694v-3.6 M733.2 1.3v3.6" stroke-width="1.1"/>
<path d="M800.2 694v-6.6 M800.2 1.3v6.6" stroke-width="1.5"/>
<rect x="116.5" y="1.3" width="697.4" height="692.7" stroke-width="1.6"/>
</g>
<g font-family="Liberation Sans, sans-serif" font-size="36.6" fill="#000" stroke="#000" stroke-width="0.3" filter="url(#gs)">
<text x="130.1" y="727.6" text-anchor="middle" textLength="53.5" lengthAdjust="spacingAndGlyphs">0.0</text>
<text x="264.1" y="727.6" text-anchor="middle" textLength="53.5" lengthAdjust="spacingAndGlyphs">0.2</text>
<text x="398.1" y="727.6" text-anchor="middle" textLength="53.5" lengthAdjust="spacingAndGlyphs">0.4</text>
<text x="532.2" y="727.6" text-anchor="middle" textLength="53.5" lengthAdjust="spacingAndGlyphs">0.6</text>
<text x="666.2" y="727.6" text-anchor="middle" textLength="53.5" lengthAdjust="spacingAndGlyphs">0.8</text>
<text x="800.2" y="727.6" text-anchor="middle" textLength="53.5" lengthAdjust="spacingAndGlyphs">1.0</text>
<text x="47.0" y="671.9" textLength="44" lengthAdjust="spacingAndGlyphs">10</text>
<text x="91.4" y="658.9" font-size="25.8" textLength="16.2" lengthAdjust="spacingAndGlyphs">0</text>
<text x="47.0" y="514.4" textLength="44" lengthAdjust="spacingAndGlyphs">10</text>
<text x="91.4" y="501.4" font-size="25.8" textLength="16.2" lengthAdjust="spacingAndGlyphs">1</text>
<text x="47.0" y="356.9" textLength="44" lengthAdjust="spacingAndGlyphs">10</text>
<text x="91.4" y="343.9" font-size="25.8" textLength="16.2" lengthAdjust="spacingAndGlyphs">2</text>
<text x="47.0" y="199.3" textLength="44" lengthAdjust="spacingAndGlyphs">10</text>
<text x="91.4" y="186.3" font-size="25.8" textLength="16.2" lengthAdjust="spacingAndGlyphs">3</text>
<text x="47.0" y="41.8" textLength="44" lengthAdjust="spacingAndGlyphs">10</text>
<text x="91.4" y="28.8" font-size="25.8" textLength="16.2" lengthAdjust="spacingAndGlyphs">4</text>
<text x="294.2" y="768.6" textLength="112.5" lengthAdjust="spacingAndGlyphs">Signal</text>
<text x="415.8" y="768.6" textLength="172" lengthAdjust="spacingAndGlyphs">efficiency</text>
<text x="598.5" y="768.6" font-style="italic" textLength="18" lengthAdjust="spacingAndGlyphs">ε</text>
<text x="617" y="774" font-style="italic" font-size="24.2" textLength="17" lengthAdjust="spacingAndGlyphs">S</text>
<g transform="translate(29.2 0) rotate(-90)">
<text x="-580" y="0" textLength="211.5" lengthAdjust="spacingAndGlyphs" >Background</text>
<text x="-355.5" y="0" textLength="155.5" lengthAdjust="spacingAndGlyphs" >rejection</text>
<text x="-188.5" y="0" textLength="36.5" lengthAdjust="spacingAndGlyphs" >1/</text>
<text x="-151.5" y="0" textLength="18" lengthAdjust="spacingAndGlyphs" font-style="italic">ε</text>
<text x="-133.5" y="5.6" font-size="24.2" font-style="italic" textLength="16" lengthAdjust="spacingAndGlyphs">B</text>
</g>
</g>
<rect x="582.5" y="16" width="217" height="217.5" rx="4" ry="4" fill="#fff" fill-opacity="0.8" stroke="#ccc" stroke-width="1.4"/>
<path d="M592.4 38.4H652.4" stroke="#1f77b4" stroke-width="2.8" fill="none"/>
<path d="M592.4 80.4H652.4" stroke="#ff7f0e" stroke-width="2.8" fill="none"/>
<path d="M592.4 122.4H652.4" stroke="#2ca02c" stroke-width="2.8" fill="none"/>
<path d="M592.4 164.3H652.4" stroke="#9467bd" stroke-width="2.8" fill="none"/>
<path d="M592.4 206.3H652.4" stroke="#17becf" stroke-width="2.8" fill="none"/>
<g transform="translate(675.1 29.2)"><path d="M4.4 0.6 L9.3 0.2 C8.0 4.5 6.4 11.5 4.6 18.9 L-0.2 19.3 C1.6 17.8 2.9 13.5 4.4 6.5 C5.0 3.5 5.1 1.6 4.4 0.6Z" fill="#000"/><path d="M6.8 8.6 C10 4 14 0.7 17.5 0.5 C20 0.4 21 2 20.6 3.6" fill="none" stroke="#000" stroke-width="1.3"/><circle cx="19.2" cy="4.1" r="1.9" fill="#000"/><path d="M6.9 8.6 C8.8 12.5 11.5 16.6 15.3 16.9 C17.6 17.0 19.5 16.3 20.8 15.0 L21.3 15.8 C19.6 18.3 17.3 19.8 14.3 19.7 C9.6 19.5 7.0 14.8 5.4 10.8Z" fill="#000"/></g>
<g transform="translate(675.2 70.8)"><path d="M0.8 3.6 C2.5 1.2 4.5 0.2 7 0.1 L15.9 -0.1 L15.7 1.2 L7.2 1.5 C5 1.6 3.2 2.2 1.4 3.9Z" fill="#000"/><path d="M9.3 1.0 L12.6 0.8 C11.2 5 9.3 12 8.1 18 L4.7 18.2 C6.0 13 8.0 6 9.3 1.0Z" fill="#000"/><path d="M-0.3 18.2 L9.5 17.7 C11.6 17.5 13 16.6 14.0 15.3 L14.6 15.7 C13.5 18 11.8 19.2 9.6 19.3 L-0.4 19.5Z" fill="#000"/></g>
<text filter="url(#gs)" stroke="#000" stroke-width="0.3" x="690.4" y="94" font-family="Liberation Sans, sans-serif" font-size="19.8" font-style="italic" textLength="20.3" lengthAdjust="spacingAndGlyphs">Cℓ</text>
<g transform="translate(675.2 112.8)"><path d="M0.8 3.6 C2.5 1.2 4.5 0.2 7 0.1 L15.9 -0.1 L15.7 1.2 L7.2 1.5 C5 1.6 3.2 2.2 1.4 3.9Z" fill="#000"/><path d="M9.3 1.0 L12.6 0.8 C11.2 5 9.3 12 8.1 18 L4.7 18.2 C6.0 13 8.0 6 9.3 1.0Z" fill="#000"/><path d="M-0.3 18.2 L9.5 17.7 C11.6 17.5 13 16.6 14.0 15.3 L14.6 15.7 C13.5 18 11.8 19.2 9.6 19.3 L-0.4 19.5Z" fill="#000"/></g>
<text filter="url(#gs)" stroke="#000" stroke-width="0.3" x="690.4" y="136" font-family="Liberation Sans, sans-serif" font-size="19.8" font-style="italic" textLength="20.3" lengthAdjust="spacingAndGlyphs">Cℓ</text>
<path d="M722 123h17.4M730.7 114.3v17.4" stroke="#000" stroke-width="2.3" fill="none"/>
<g transform="translate(750.1 113.2)"><path d="M4.4 0.6 L9.3 0.2 C8.0 4.5 6.4 11.5 4.6 18.9 L-0.2 19.3 C1.6 17.8 2.9 13.5 4.4 6.5 C5.0 3.5 5.1 1.6 4.4 0.6Z" fill="#000"/><path d="M6.8 8.6 C10 4 14 0.7 17.5 0.5 C20 0.4 21 2 20.6 3.6" fill="none" stroke="#000" stroke-width="1.3"/><circle cx="19.2" cy="4.1" r="1.9" fill="#000"/><path d="M6.9 8.6 C8.8 12.5 11.5 16.6 15.3 16.9 C17.6 17.0 19.5 16.3 20.8 15.0 L21.3 15.8 C19.6 18.3 17.3 19.8 14.3 19.7 C9.6 19.5 7.0 14.8 5.4 10.8Z" fill="#000"/></g>
<g transform="translate(675.2 154.7)"><path d="M0.8 3.6 C2.5 1.2 4.5 0.2 7 0.1 L15.9 -0.1 L15.7 1.2 L7.2 1.5 C5 1.6 3.2 2.2 1.4 3.9Z" fill="#000"/><path d="M9.3 1.0 L12.6 0.8 C11.2 5 9.3 12 8.1 18 L4.7 18.2 C6.0 13 8.0 6 9.3 1.0Z" fill="#000"/><path d="M-0.3 18.2 L9.5 17.7 C11.6 17.5 13 16.6 14.0 15.3 L14.6 15.7 C13.5 18 11.8 19.2 9.6 19.3 L-0.4 19.5Z" fill="#000"/></g>
<text filter="url(#gs)" stroke="#000" stroke-width="0.3" x="690.4" y="177.9" font-family="Liberation Sans, sans-serif" font-size="19.8" font-style="italic" textLength="35.5" lengthAdjust="spacingAndGlyphs">CNℓ</text>
<g transform="translate(675.2 196.7)"><path d="M0.8 3.6 C2.5 1.2 4.5 0.2 7 0.1 L15.9 -0.1 L15.7 1.2 L7.2 1.5 C5 1.6 3.2 2.2 1.4 3.9Z" fill="#000"/><path d="M9.3 1.0 L12.6 0.8 C11.2 5 9.3 12 8.1 18 L4.7 18.2 C6.0 13 8.0 6 9.3 1.0Z" fill="#000"/><path d="M-0.3 18.2 L9.5 17.7 C11.6 17.5 13 16.6 14.0 15.3 L14.6 15.7 C13.5 18 11.8 19.2 9.6 19.3 L-0.4 19.5Z" fill="#000"/></g>
<text filter="url(#gs)" stroke="#000" stroke-width="0.3" x="690.4" y="219.9" font-family="Liberation Sans, sans-serif" font-size="19.8" font-style="italic" textLength="35.5" lengthAdjust="spacingAndGlyphs">CNℓ</text>
<path d="M737 206.9h17.4M745.7 198.2v17.4" stroke="#000" stroke-width="2.3" fill="none"/>
<g transform="translate(765.4 197.1)"><path d="M4.4 0.6 L9.3 0.2 C8.0 4.5 6.4 11.5 4.6 18.9 L-0.2 19.3 C1.6 17.8 2.9 13.5 4.4 6.5 C5.0 3.5 5.1 1.6 4.4 0.6Z" fill="#000"/><path d="M6.8 8.6 C10 4 14 0.7 17.5 0.5 C20 0.4 21 2 20.6 3.6" fill="none" stroke="#000" stroke-width="1.3"/><circle cx="19.2" cy="4.1" r="1.9" fill="#000"/><path d="M6.9 8.6 C8.8 12.5 11.5 16.6 15.3 16.9 C17.6 17.0 19.5 16.3 20.8 15.0 L21.3 15.8 C19.6 18.3 17.3 19.8 14.3 19.7 C9.6 19.5 7.0 14.8 5.4 10.8Z" fill="#000"/></g>
</svg>
</body></html>
